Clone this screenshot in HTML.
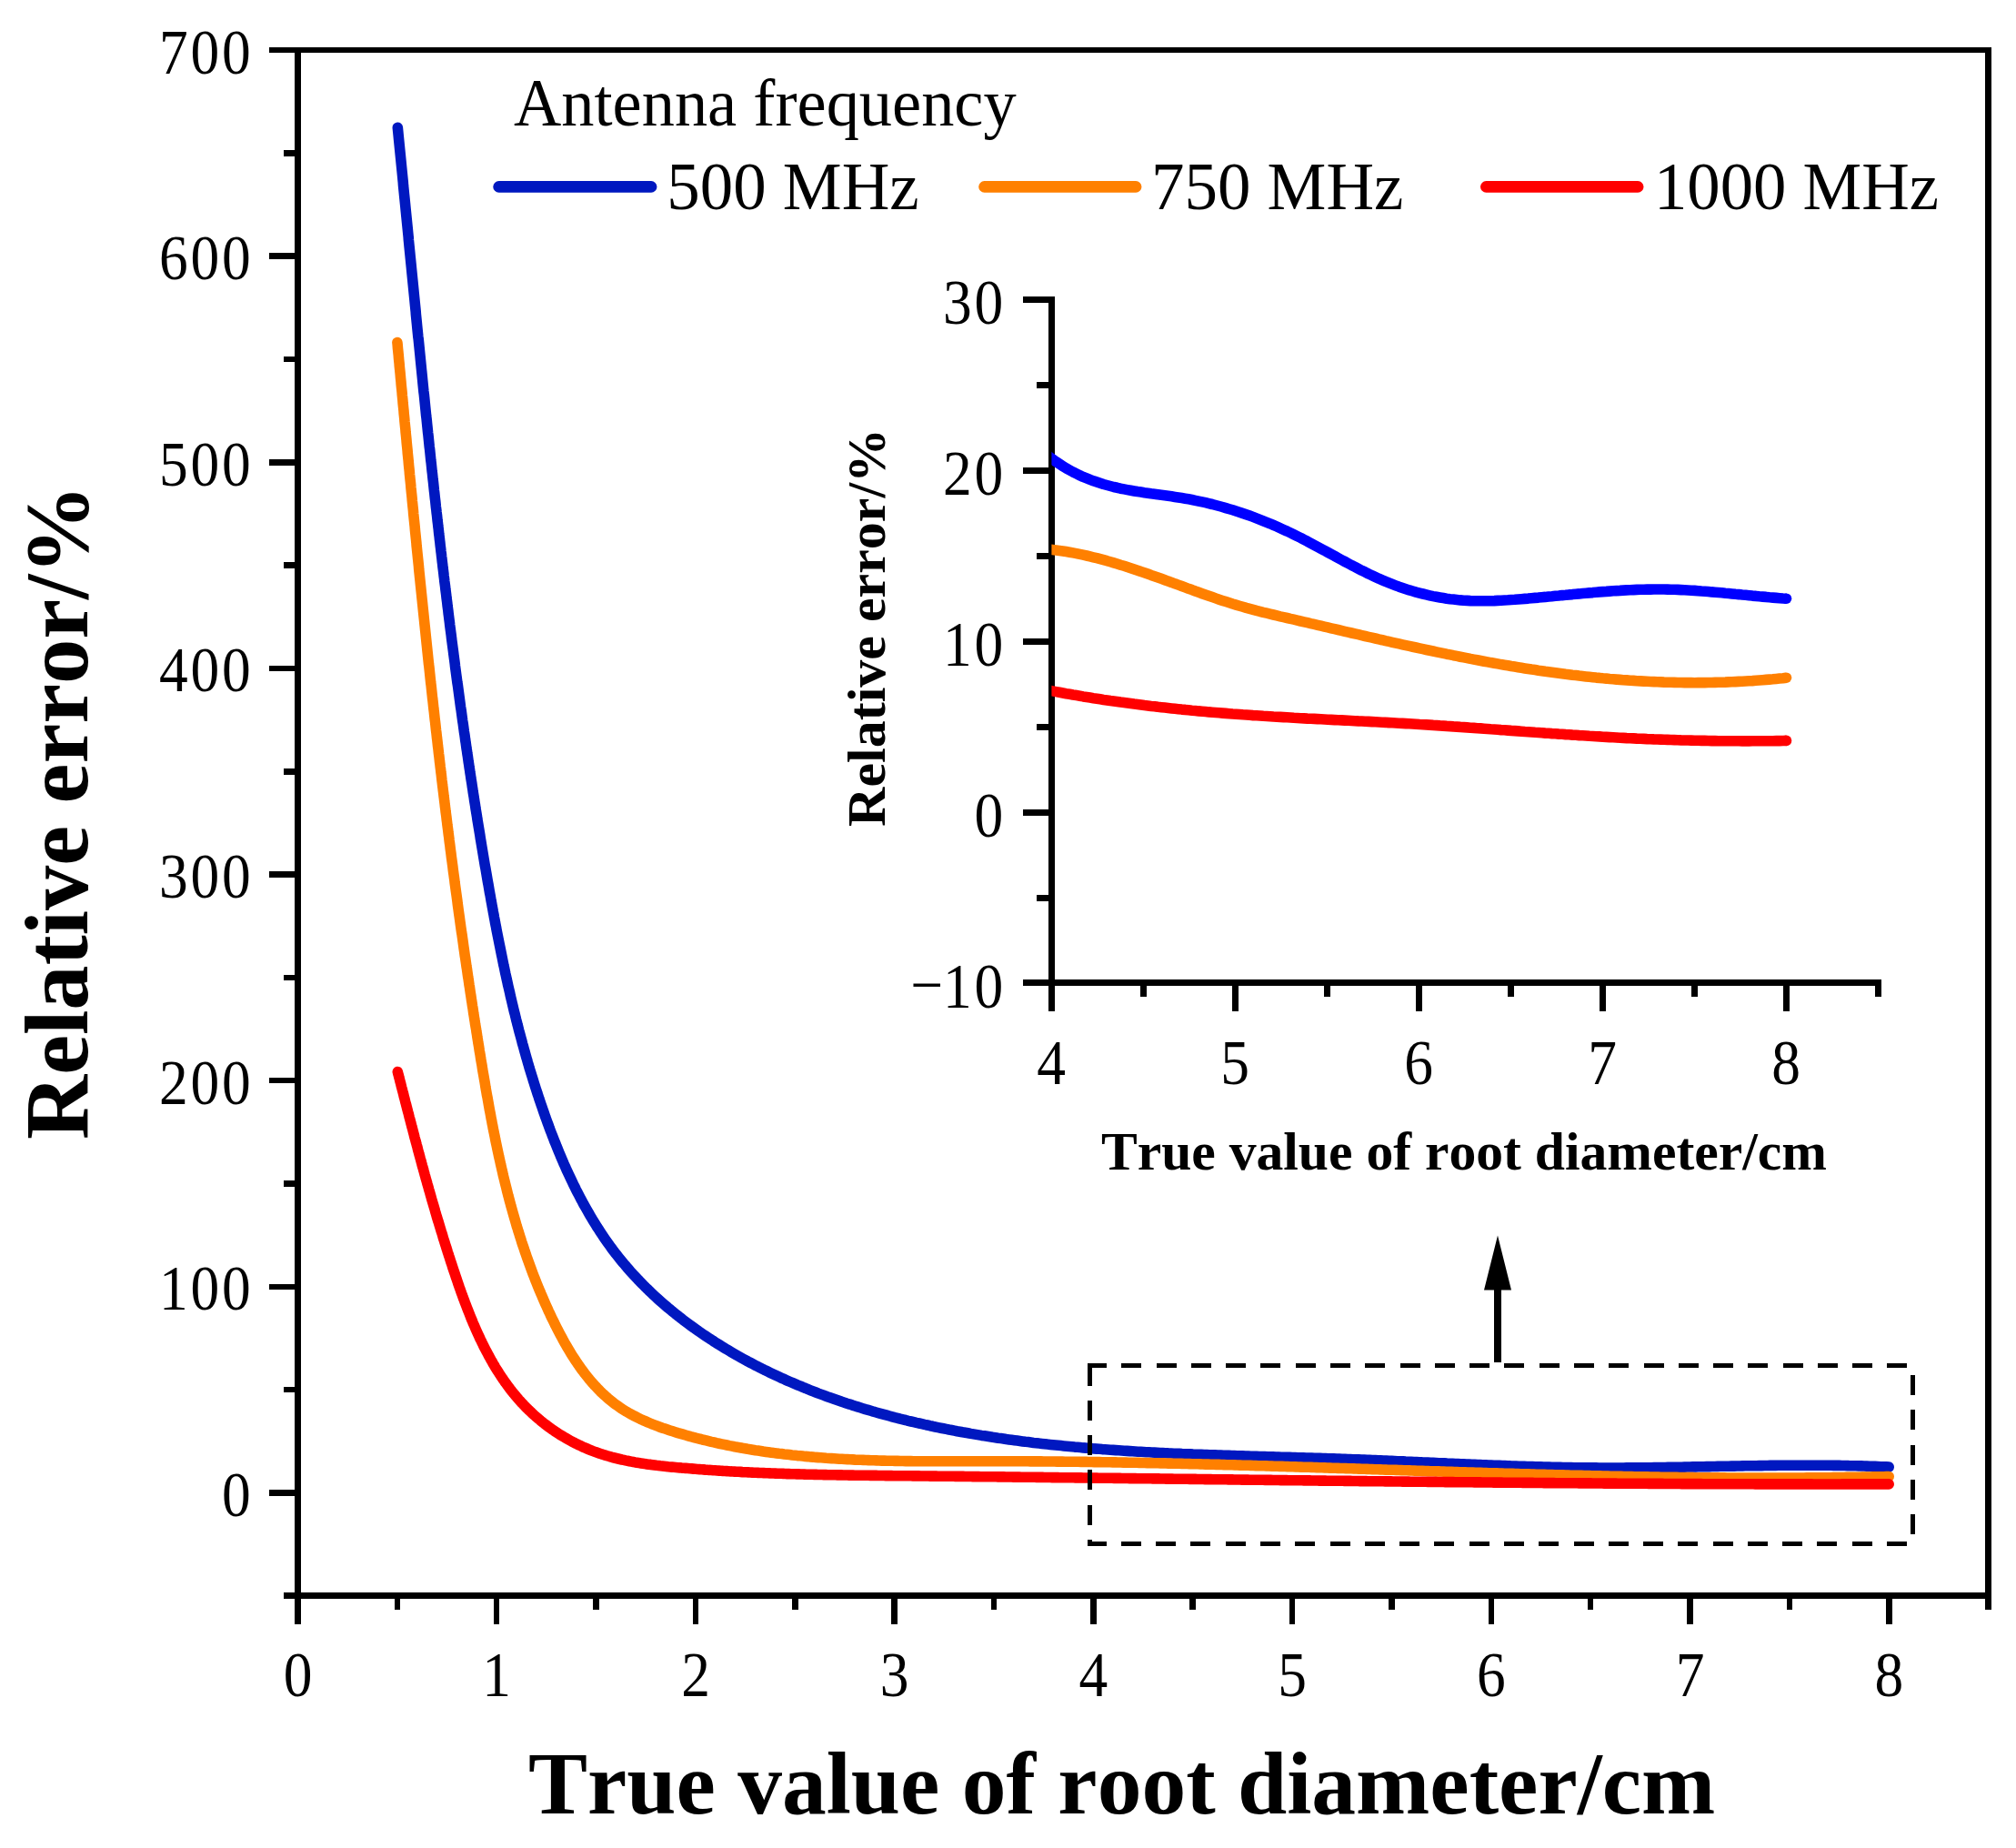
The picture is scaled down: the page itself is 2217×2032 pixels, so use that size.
<!DOCTYPE html><html><head><meta charset="utf-8"><title>Relative error vs root diameter</title>
<style>html,body{margin:0;padding:0;background:#fff}svg{display:block}text{font-family:"Liberation Serif","Times New Roman",serif;fill:#000;font-kerning:none}.tk{font-size:69px}.lg{font-size:75px}.b{font-weight:bold}</style></head><body>
<svg width="2217" height="2032" viewBox="0 0 2217 2032">
<rect width="2217" height="2032" fill="#fff"/>
<g fill="none" stroke-linecap="round" stroke-linejoin="round" stroke-width="11.6">
<path d="M437.3,140.2 L437.6,143.2 L437.9,146.2 L438.2,149.3 L438.5,152.3 L438.8,155.3 L439.1,158.3 L439.4,161.3 L439.7,164.3 L440.0,167.4 L440.3,170.4 L440.6,173.4 L440.9,176.4 L441.2,179.4 L441.5,182.5 L441.8,185.5 L442.1,188.5 L442.4,191.5 L442.7,194.5 L443.0,197.6 L443.3,200.6 L443.5,203.6 L443.8,206.6 L444.1,209.6 L444.4,212.7 L444.7,215.7 L445.0,218.7 L445.3,221.7 L445.6,224.7 L445.9,227.8 L446.2,230.8 L446.5,233.8 L446.8,236.8 L447.1,239.8 L447.4,242.9 L447.7,245.9 L448.0,248.9 L448.3,251.9 L448.6,255.0 L448.9,258.0 L449.2,261.0 L449.4,264.0 L449.7,267.0 L450.0,270.1 L450.3,273.1 L450.6,276.1 L450.9,279.1 L451.2,282.2 L451.5,285.2 L451.8,288.2 L452.1,291.2 L452.4,294.3 L452.7,297.3 L453.0,300.3 L453.3,303.3 L453.6,306.4 L453.9,309.4 L454.2,312.4 L454.5,315.4 L454.8,318.4 L455.1,321.5 L455.4,324.5 L455.7,327.5 L456.0,330.5 L456.3,333.6 L456.6,336.6 L456.9,339.6 L457.2,342.6 L457.4,345.7 L457.7,348.7 L458.0,351.7 L458.3,354.7 L458.6,357.8 L458.9,360.8 L459.2,363.8 L459.5,366.8 L459.8,369.9 L460.2,372.9 L460.5,375.9 L460.8,378.9 L461.1,382.0 L461.4,385.0 L461.7,388.0 L462.0,391.0 L462.3,394.1 L462.6,397.1 L462.9,400.1 L463.2,403.1 L463.5,406.2 L463.8,409.2 L464.1,412.2 L464.4,415.2 L464.7,418.3 L465.0,421.3 L465.3,424.3 L465.6,427.3 L465.9,430.4 L466.3,433.4 L466.6,436.4 L466.9,439.4 L467.2,442.5 L467.5,445.5 L467.8,448.5 L468.1,451.5 L468.4,454.6 L468.7,457.6 L469.1,460.6 L469.4,463.6 L469.7,466.7 L470.0,469.7 L470.3,472.7 L470.6,475.7 L471.0,478.8 L471.3,481.8 L471.6,484.8 L471.9,487.8 L472.2,490.9 L472.6,493.9 L472.9,496.9 L473.2,499.9 L473.5,502.9 L473.8,506.0 L474.2,509.0 L474.5,512.0 L474.8,515.0 L475.1,518.1 L475.5,521.1 L475.8,524.1 L476.1,527.1 L476.5,530.2 L476.8,533.2 L477.1,536.2 L477.4,539.2 L477.8,542.3 L478.1,545.3 L478.4,548.3 L478.8,551.3 L479.1,554.3 L479.4,557.4 L479.8,560.4 L480.1,563.4 L480.5,566.4 L480.8,569.5 L481.1,572.5 L481.5,575.5 L481.8,578.5 L482.2,581.5 L482.5,584.6 L482.8,587.6 L483.2,590.6 L483.5,593.6 L483.9,596.6 L484.2,599.7 L484.6,602.7 L484.9,605.7 L485.3,608.7 L485.6,611.7 L486.0,614.8 L486.3,617.8 L486.7,620.8 L487.0,623.8 L487.4,626.8 L487.8,629.9 L488.1,632.9 L488.5,635.9 L488.8,638.9 L489.2,641.9 L489.6,645.0 L489.9,648.0 L490.3,651.0 L490.7,654.0 L491.0,657.0 L491.4,660.0 L491.8,663.1 L492.1,666.1 L492.5,669.1 L492.9,672.1 L493.2,675.1 L493.6,678.1 L494.0,681.2 L494.4,684.2 L494.7,687.2 L495.1,690.2 L495.5,693.2 L495.9,696.2 L496.3,699.3 L496.6,702.3 L497.0,705.3 L497.4,708.3 L497.8,711.3 L498.2,714.3 L498.6,717.3 L499.0,720.4 L499.4,723.4 L499.8,726.4 L500.2,729.4 L500.5,732.4 L500.9,735.4 L501.3,738.4 L501.7,741.4 L502.1,744.5 L502.5,747.5 L502.9,750.5 L503.4,753.5 L503.8,756.5 L504.2,759.5 L504.6,762.5 L505.0,765.5 L505.4,768.5 L505.8,771.5 L506.2,774.6 L506.6,777.6 L507.1,780.6 L507.5,783.6 L507.9,786.6 L508.3,789.6 L508.7,792.6 L509.2,795.6 L509.6,798.6 L510.0,801.6 L510.4,804.6 L510.9,807.6 L511.3,810.6 L511.7,813.7 L512.2,816.7 L512.6,819.7 L513.0,822.7 L513.5,825.7 L513.9,828.7 L514.4,831.7 L514.8,834.7 L515.2,837.7 L515.7,840.7 L516.1,843.7 L516.6,846.7 L517.0,849.7 L517.5,852.7 L517.9,855.7 L518.4,858.7 L518.9,861.7 L519.3,864.7 L519.8,867.7 L520.2,870.7 L520.7,873.7 L521.2,876.7 L521.6,879.7 L522.1,882.7 L522.6,885.7 L523.0,888.7 L523.5,891.7 L524.0,894.7 L524.5,897.7 L524.9,900.7 L525.4,903.7 L525.9,906.7 L526.4,909.7 L526.9,912.7 L527.4,915.7 L527.9,918.7 L528.3,921.7 L528.8,924.6 L529.3,927.6 L529.8,930.6 L530.3,933.6 L530.8,936.6 L531.3,939.6 L531.8,942.6 L532.3,945.6 L532.8,948.6 L533.3,951.6 L533.9,954.6 L534.4,957.6 L534.9,960.5 L535.4,963.5 L535.9,966.5 L536.4,969.5 L537.0,972.5 L537.5,975.5 L538.0,978.5 L538.5,981.5 L539.1,984.4 L539.6,987.4 L540.1,990.4 L540.7,993.4 L541.2,996.4 L541.8,999.4 L542.3,1002.3 L542.9,1005.3 L543.4,1008.3 L544.0,1011.3 L544.5,1014.3 L545.1,1017.2 L545.7,1020.2 L546.2,1023.2 L546.8,1026.2 L547.4,1029.2 L548.0,1032.1 L548.6,1035.1 L549.2,1038.1 L549.8,1041.0 L550.4,1044.0 L551.0,1047.0 L551.6,1050.0 L552.2,1052.9 L552.8,1055.9 L553.4,1058.9 L554.0,1061.8 L554.7,1064.8 L555.3,1067.8 L555.9,1070.7 L556.6,1073.7 L557.2,1076.6 L557.9,1079.6 L558.5,1082.6 L559.2,1085.5 L559.9,1088.5 L560.6,1091.4 L561.2,1094.4 L561.9,1097.3 L562.6,1100.3 L563.3,1103.3 L564.0,1106.2 L564.7,1109.1 L565.4,1112.1 L566.2,1115.0 L566.9,1118.0 L567.6,1120.9 L568.4,1123.9 L569.1,1126.8 L569.9,1129.8 L570.6,1132.7 L571.4,1135.6 L572.2,1138.6 L573.0,1141.5 L573.8,1144.4 L574.5,1147.4 L575.4,1150.3 L576.2,1153.2 L577.0,1156.1 L577.8,1159.1 L578.6,1162.0 L579.5,1164.9 L580.3,1167.8 L581.2,1170.8 L582.0,1173.7 L582.9,1176.6 L583.8,1179.5 L584.7,1182.4 L585.6,1185.3 L586.5,1188.2 L587.4,1191.1 L588.3,1194.0 L589.2,1196.9 L590.2,1199.9 L591.1,1202.8 L592.1,1205.6 L593.0,1208.5 L594.0,1211.4 L595.0,1214.3 L596.0,1217.2 L597.0,1220.1 L598.0,1223.0 L599.0,1225.9 L600.0,1228.8 L601.1,1231.7 L602.1,1234.5 L603.2,1237.4 L604.2,1240.3 L605.3,1243.2 L606.4,1246.0 L607.5,1248.9 L608.6,1251.7 L609.7,1254.6 L610.9,1257.4 L612.0,1260.3 L613.2,1263.1 L614.3,1266.0 L615.5,1268.8 L616.7,1271.6 L617.9,1274.5 L619.1,1277.3 L620.3,1280.1 L621.6,1282.9 L622.8,1285.7 L624.1,1288.5 L625.4,1291.2 L626.7,1294.0 L628.0,1296.8 L629.3,1299.5 L630.6,1302.3 L632.0,1305.0 L633.3,1307.8 L634.7,1310.5 L636.1,1313.2 L637.5,1315.9 L638.9,1318.6 L640.4,1321.3 L641.8,1324.0 L643.3,1326.6 L644.8,1329.3 L646.3,1331.9 L647.8,1334.5 L649.3,1337.2 L650.9,1339.8 L652.4,1342.4 L654.0,1344.9 L655.6,1347.5 L657.2,1350.1 L658.9,1352.6 L660.5,1355.1 L662.2,1357.7 L663.9,1360.2 L665.6,1362.7 L667.3,1365.1 L669.1,1367.6 L670.8,1370.0 L672.6,1372.5 L674.4,1374.9 L676.2,1377.3 L678.1,1379.7 L679.9,1382.0 L681.8,1384.4 L683.7,1386.7 L685.6,1389.0 L687.6,1391.3 L689.5,1393.6 L691.5,1395.9 L693.5,1398.2 L695.5,1400.4 L697.5,1402.6 L699.6,1404.8 L701.7,1407.0 L703.7,1409.2 L705.9,1411.4 L708.0,1413.5 L710.1,1415.6 L712.3,1417.7 L714.4,1419.8 L716.6,1421.9 L718.8,1424.0 L721.0,1426.0 L723.3,1428.1 L725.5,1430.1 L727.8,1432.1 L730.1,1434.1 L732.3,1436.0 L734.6,1438.0 L737.0,1439.9 L739.3,1441.9 L741.7,1443.8 L744.0,1445.7 L746.4,1447.5 L748.8,1449.4 L751.2,1451.3 L753.6,1453.1 L756.0,1454.9 L758.5,1456.7 L760.9,1458.5 L763.4,1460.3 L765.8,1462.0 L768.3,1463.8 L770.8,1465.5 L773.3,1467.2 L775.8,1468.9 L778.4,1470.6 L780.9,1472.3 L783.5,1473.9 L786.0,1475.6 L788.6,1477.2 L791.2,1478.8 L793.7,1480.4 L796.3,1482.0 L798.9,1483.6 L801.5,1485.1 L804.2,1486.7 L806.8,1488.2 L809.4,1489.7 L812.1,1491.2 L814.7,1492.7 L817.4,1494.2 L820.0,1495.6 L822.7,1497.1 L825.4,1498.5 L828.1,1499.9 L830.7,1501.3 L833.4,1502.7 L836.1,1504.1 L838.9,1505.4 L841.6,1506.8 L844.3,1508.1 L847.0,1509.4 L849.8,1510.7 L852.5,1512.0 L855.3,1513.3 L858.0,1514.6 L860.8,1515.8 L863.5,1517.1 L866.3,1518.3 L869.1,1519.5 L871.9,1520.7 L874.7,1521.9 L877.5,1523.1 L880.3,1524.2 L883.1,1525.4 L885.9,1526.5 L888.7,1527.7 L891.5,1528.8 L894.3,1529.9 L897.2,1531.0 L900.0,1532.1 L902.8,1533.1 L905.7,1534.2 L908.5,1535.2 L911.4,1536.3 L914.3,1537.3 L917.1,1538.3 L920.0,1539.3 L922.9,1540.3 L925.7,1541.3 L928.6,1542.2 L931.5,1543.2 L934.4,1544.1 L937.3,1545.1 L940.2,1546.0 L943.1,1546.9 L946.0,1547.8 L948.9,1548.7 L951.8,1549.6 L954.7,1550.4 L957.7,1551.3 L960.6,1552.2 L963.5,1553.0 L966.5,1553.8 L969.4,1554.6 L972.3,1555.4 L975.3,1556.2 L978.2,1557.0 L981.2,1557.8 L984.1,1558.6 L987.1,1559.3 L990.0,1560.1 L993.0,1560.8 L995.9,1561.5 L998.9,1562.3 L1001.9,1563.0 L1004.8,1563.7 L1007.8,1564.4 L1010.8,1565.0 L1013.7,1565.7 L1016.7,1566.4 L1019.7,1567.0 L1022.7,1567.7 L1025.6,1568.3 L1028.6,1569.0 L1031.6,1569.6 L1034.6,1570.2 L1037.6,1570.8 L1040.6,1571.4 L1043.6,1572.0 L1046.6,1572.5 L1049.6,1573.1 L1052.5,1573.7 L1055.5,1574.2 L1058.5,1574.8 L1061.5,1575.3 L1064.5,1575.8 L1067.5,1576.4 L1070.5,1576.9 L1073.5,1577.4 L1076.5,1577.9 L1079.5,1578.4 L1082.5,1578.8 L1085.5,1579.3 L1088.5,1579.8 L1091.6,1580.3 L1094.6,1580.7 L1097.6,1581.2 L1100.6,1581.6 L1103.6,1582.0 L1106.6,1582.5 L1109.6,1582.9 L1112.6,1583.3 L1115.6,1583.7 L1118.6,1584.1 L1121.6,1584.5 L1124.6,1584.9 L1127.6,1585.3 L1130.7,1585.6 L1133.7,1586.0 L1136.7,1586.4 L1139.7,1586.7 L1142.7,1587.1 L1145.7,1587.4 L1148.7,1587.7 L1151.7,1588.1 L1154.8,1588.4 L1157.8,1588.7 L1160.8,1589.0 L1163.8,1589.3 L1166.8,1589.6 L1169.8,1589.9 L1172.9,1590.2 L1175.9,1590.5 L1178.9,1590.8 L1181.9,1591.1 L1184.9,1591.3 L1187.9,1591.6 L1191.0,1591.9 L1194.0,1592.1 L1197.0,1592.4 L1200.0,1592.6 L1203.0,1592.9 L1206.1,1593.1 L1209.1,1593.3 L1212.1,1593.6 L1215.1,1593.8 L1218.2,1594.0 L1221.2,1594.2 L1224.2,1594.4 L1227.2,1594.6 L1230.3,1594.8 L1233.3,1595.0 L1236.3,1595.2 L1239.3,1595.4 L1242.4,1595.6 L1245.4,1595.8 L1248.4,1596.0 L1251.4,1596.2 L1254.5,1596.3 L1257.5,1596.5 L1260.5,1596.7 L1263.5,1596.8 L1266.6,1597.0 L1269.6,1597.1 L1272.6,1597.3 L1275.7,1597.5 L1278.7,1597.6 L1281.7,1597.7 L1284.8,1597.9 L1287.8,1598.0 L1290.8,1598.2 L1293.8,1598.3 L1296.9,1598.4 L1299.9,1598.6 L1302.9,1598.7 L1306.0,1598.8 L1309.0,1598.9 L1312.0,1599.1 L1315.1,1599.2 L1318.1,1599.3 L1321.1,1599.4 L1324.2,1599.5 L1327.2,1599.6 L1330.2,1599.7 L1333.3,1599.8 L1336.3,1599.9 L1339.3,1600.0 L1342.4,1600.1 L1345.4,1600.3 L1348.4,1600.3 L1351.5,1600.4 L1354.5,1600.5 L1357.5,1600.6 L1360.6,1600.7 L1363.6,1600.8 L1366.6,1600.9 L1369.7,1601.0 L1372.7,1601.1 L1375.7,1601.2 L1378.8,1601.3 L1381.8,1601.4 L1384.9,1601.5 L1387.9,1601.6 L1390.9,1601.6 L1394.0,1601.7 L1397.0,1601.8 L1400.0,1601.9 L1403.1,1602.0 L1406.1,1602.1 L1409.1,1602.2 L1412.2,1602.3 L1415.2,1602.3 L1418.2,1602.4 L1421.3,1602.5 L1424.3,1602.6 L1427.4,1602.7 L1430.4,1602.8 L1433.4,1602.9 L1436.5,1603.0 L1439.5,1603.1 L1442.5,1603.1 L1445.6,1603.2 L1448.6,1603.3 L1451.7,1603.4 L1454.7,1603.5 L1457.7,1603.6 L1460.8,1603.7 L1463.8,1603.8 L1466.8,1603.9 L1469.9,1604.0 L1472.9,1604.1 L1475.9,1604.2 L1479.0,1604.3 L1482.0,1604.5 L1485.1,1604.6 L1488.1,1604.7 L1491.1,1604.8 L1494.2,1604.9 L1497.2,1605.0 L1500.2,1605.1 L1503.3,1605.3 L1506.3,1605.4 L1509.3,1605.5 L1512.4,1605.6 L1515.4,1605.8 L1518.5,1605.9 L1521.5,1606.0 L1524.5,1606.1 L1527.6,1606.3 L1530.6,1606.4 L1533.6,1606.5 L1536.7,1606.7 L1539.7,1606.8 L1542.7,1606.9 L1545.8,1607.1 L1548.8,1607.2 L1551.8,1607.3 L1554.9,1607.5 L1557.9,1607.6 L1561.0,1607.7 L1564.0,1607.9 L1567.0,1608.0 L1570.1,1608.1 L1573.1,1608.3 L1576.1,1608.4 L1579.2,1608.5 L1582.2,1608.7 L1585.2,1608.8 L1588.3,1608.9 L1591.3,1609.1 L1594.3,1609.2 L1597.4,1609.3 L1600.4,1609.5 L1603.4,1609.6 L1606.5,1609.7 L1609.5,1609.8 L1612.6,1610.0 L1615.6,1610.1 L1618.6,1610.2 L1621.7,1610.3 L1624.7,1610.5 L1627.7,1610.6 L1630.8,1610.7 L1633.8,1610.8 L1636.8,1611.0 L1639.9,1611.1 L1642.9,1611.2 L1645.9,1611.3 L1649.0,1611.4 L1652.0,1611.5 L1655.0,1611.6 L1658.1,1611.7 L1661.1,1611.9 L1664.2,1612.0 L1667.2,1612.1 L1670.2,1612.2 L1673.3,1612.3 L1676.3,1612.4 L1679.3,1612.5 L1682.4,1612.5 L1685.4,1612.6 L1688.4,1612.7 L1691.5,1612.8 L1694.5,1612.9 L1697.5,1613.0 L1700.6,1613.0 L1703.6,1613.1 L1706.7,1613.2 L1709.7,1613.3 L1712.7,1613.3 L1715.8,1613.4 L1718.8,1613.5 L1721.8,1613.5 L1724.9,1613.6 L1727.9,1613.6 L1730.9,1613.7 L1734.0,1613.7 L1737.0,1613.8 L1740.1,1613.8 L1743.1,1613.8 L1746.1,1613.9 L1749.2,1613.9 L1752.2,1613.9 L1755.2,1613.9 L1758.3,1614.0 L1761.3,1614.0 L1764.3,1614.0 L1767.4,1614.0 L1770.4,1614.0 L1773.5,1614.0 L1776.5,1614.0 L1779.5,1614.0 L1782.6,1614.0 L1785.6,1614.0 L1788.6,1613.9 L1791.7,1613.9 L1794.7,1613.9 L1797.8,1613.9 L1800.8,1613.8 L1803.8,1613.8 L1806.9,1613.8 L1809.9,1613.8 L1812.9,1613.7 L1816.0,1613.7 L1819.0,1613.6 L1822.1,1613.6 L1825.1,1613.6 L1828.1,1613.5 L1831.2,1613.5 L1834.2,1613.4 L1837.2,1613.4 L1840.3,1613.3 L1843.3,1613.3 L1846.4,1613.2 L1849.4,1613.2 L1852.4,1613.1 L1855.5,1613.0 L1858.5,1613.0 L1861.5,1612.9 L1864.6,1612.9 L1867.6,1612.8 L1870.7,1612.8 L1873.7,1612.7 L1876.7,1612.6 L1879.8,1612.6 L1882.8,1612.5 L1885.9,1612.5 L1888.9,1612.4 L1891.9,1612.3 L1895.0,1612.3 L1898.0,1612.2 L1901.0,1612.2 L1904.1,1612.1 L1907.1,1612.1 L1910.2,1612.0 L1913.2,1612.0 L1916.2,1611.9 L1919.3,1611.8 L1922.3,1611.8 L1925.4,1611.7 L1928.4,1611.7 L1931.4,1611.7 L1934.5,1611.6 L1937.5,1611.6 L1940.5,1611.5 L1943.6,1611.5 L1946.6,1611.4 L1949.7,1611.4 L1952.7,1611.4 L1955.7,1611.3 L1958.8,1611.3 L1961.8,1611.3 L1964.8,1611.3 L1967.9,1611.3 L1970.9,1611.2 L1974.0,1611.2 L1977.0,1611.2 L1980.0,1611.2 L1983.1,1611.2 L1986.1,1611.2 L1989.2,1611.2 L1992.2,1611.2 L1995.2,1611.2 L1998.3,1611.2 L2001.3,1611.2 L2004.3,1611.2 L2007.4,1611.3 L2010.4,1611.3 L2013.5,1611.3 L2016.5,1611.4 L2019.5,1611.4 L2022.6,1611.4 L2025.6,1611.5 L2028.6,1611.5 L2031.7,1611.6 L2034.7,1611.7 L2037.8,1611.7 L2040.8,1611.8 L2043.8,1611.9 L2046.9,1611.9 L2049.9,1612.0 L2052.9,1612.1 L2056.0,1612.2 L2059.0,1612.3 L2062.1,1612.4 L2065.1,1612.5 L2068.1,1612.7 L2071.2,1612.8 L2074.2,1612.9 L2077.2,1613.1" stroke="#0018c0"/>
<path d="M436.9,376.5 L437.2,379.4 L437.4,382.3 L437.7,385.2 L438.0,388.1 L438.3,391.0 L438.5,393.9 L438.8,396.8 L439.1,399.7 L439.3,402.6 L439.6,405.5 L439.9,408.4 L440.2,411.3 L440.4,414.2 L440.7,417.1 L441.0,420.0 L441.2,422.9 L441.5,425.8 L441.8,428.7 L442.1,431.6 L442.3,434.5 L442.6,437.4 L442.9,440.3 L443.1,443.2 L443.4,446.1 L443.7,449.0 L444.0,451.9 L444.2,454.8 L444.5,457.7 L444.8,460.6 L445.0,463.5 L445.3,466.4 L445.6,469.3 L445.9,472.2 L446.1,475.1 L446.4,478.0 L446.7,480.9 L447.0,483.8 L447.2,486.7 L447.5,489.6 L447.8,492.5 L448.1,495.4 L448.3,498.3 L448.6,501.2 L448.9,504.1 L449.2,507.0 L449.4,509.9 L449.7,512.8 L450.0,515.7 L450.3,518.6 L450.5,521.5 L450.8,524.4 L451.1,527.3 L451.4,530.2 L451.7,533.1 L451.9,536.0 L452.2,538.9 L452.5,541.8 L452.8,544.7 L453.1,547.6 L453.3,550.5 L453.6,553.4 L453.9,556.3 L454.2,559.2 L454.5,562.1 L454.7,565.0 L455.0,567.9 L455.3,570.8 L455.6,573.7 L455.9,576.6 L456.2,579.5 L456.4,582.4 L456.7,585.3 L457.0,588.2 L457.3,591.1 L457.6,594.0 L457.9,596.9 L458.1,599.8 L458.4,602.7 L458.7,605.6 L459.0,608.5 L459.3,611.4 L459.6,614.3 L459.9,617.2 L460.2,620.1 L460.5,623.0 L460.7,625.9 L461.0,628.8 L461.3,631.7 L461.6,634.6 L461.9,637.5 L462.2,640.4 L462.5,643.3 L462.8,646.2 L463.1,649.1 L463.4,652.0 L463.7,654.9 L464.0,657.8 L464.3,660.7 L464.6,663.6 L464.9,666.5 L465.2,669.4 L465.5,672.3 L465.8,675.2 L466.1,678.1 L466.4,681.0 L466.7,683.9 L467.0,686.8 L467.3,689.7 L467.6,692.6 L467.9,695.5 L468.2,698.4 L468.5,701.3 L468.8,704.2 L469.1,707.1 L469.4,710.0 L469.7,712.9 L470.0,715.8 L470.3,718.7 L470.6,721.6 L470.9,724.5 L471.2,727.4 L471.5,730.3 L471.9,733.2 L472.2,736.1 L472.5,739.0 L472.8,741.9 L473.1,744.8 L473.4,747.7 L473.7,750.6 L474.1,753.5 L474.4,756.4 L474.7,759.3 L475.0,762.2 L475.3,765.0 L475.6,767.9 L476.0,770.8 L476.3,773.7 L476.6,776.6 L476.9,779.5 L477.3,782.4 L477.6,785.3 L477.9,788.2 L478.2,791.1 L478.6,794.0 L478.9,796.9 L479.2,799.8 L479.5,802.7 L479.9,805.6 L480.2,808.5 L480.5,811.4 L480.9,814.3 L481.2,817.2 L481.5,820.1 L481.9,823.0 L482.2,825.9 L482.5,828.7 L482.9,831.6 L483.2,834.5 L483.5,837.4 L483.9,840.3 L484.2,843.2 L484.6,846.1 L484.9,849.0 L485.3,851.9 L485.6,854.8 L485.9,857.7 L486.3,860.6 L486.6,863.5 L487.0,866.4 L487.3,869.3 L487.7,872.1 L488.0,875.0 L488.4,877.9 L488.7,880.8 L489.1,883.7 L489.4,886.6 L489.8,889.5 L490.1,892.4 L490.5,895.3 L490.9,898.2 L491.2,901.1 L491.6,904.0 L491.9,906.8 L492.3,909.7 L492.7,912.6 L493.0,915.5 L493.4,918.4 L493.8,921.3 L494.1,924.2 L494.5,927.1 L494.9,930.0 L495.2,932.9 L495.6,935.7 L496.0,938.6 L496.3,941.5 L496.7,944.4 L497.1,947.3 L497.5,950.2 L497.9,953.1 L498.2,956.0 L498.6,958.9 L499.0,961.7 L499.4,964.6 L499.8,967.5 L500.1,970.4 L500.5,973.3 L500.9,976.2 L501.3,979.1 L501.7,982.0 L502.1,984.8 L502.5,987.7 L502.9,990.6 L503.2,993.5 L503.6,996.4 L504.0,999.3 L504.4,1002.2 L504.8,1005.1 L505.2,1007.9 L505.6,1010.8 L506.0,1013.7 L506.4,1016.6 L506.8,1019.5 L507.2,1022.4 L507.6,1025.2 L508.1,1028.1 L508.5,1031.0 L508.9,1033.9 L509.3,1036.8 L509.7,1039.7 L510.1,1042.6 L510.5,1045.4 L510.9,1048.3 L511.3,1051.2 L511.8,1054.1 L512.2,1057.0 L512.6,1059.8 L513.0,1062.7 L513.5,1065.6 L513.9,1068.5 L514.3,1071.4 L514.7,1074.3 L515.2,1077.1 L515.6,1080.0 L516.0,1082.9 L516.5,1085.8 L516.9,1088.7 L517.3,1091.5 L517.8,1094.4 L518.2,1097.3 L518.6,1100.2 L519.1,1103.1 L519.5,1105.9 L520.0,1108.8 L520.4,1111.7 L520.8,1114.6 L521.3,1117.5 L521.7,1120.3 L522.2,1123.2 L522.6,1126.1 L523.1,1129.0 L523.6,1131.8 L524.0,1134.7 L524.5,1137.6 L524.9,1140.5 L525.4,1143.4 L525.8,1146.2 L526.3,1149.1 L526.8,1152.0 L527.2,1154.9 L527.7,1157.7 L528.2,1160.6 L528.6,1163.5 L529.1,1166.4 L529.6,1169.2 L530.1,1172.1 L530.5,1175.0 L531.0,1177.9 L531.5,1180.7 L532.0,1183.6 L532.5,1186.5 L533.0,1189.3 L533.5,1192.2 L533.9,1195.1 L534.4,1198.0 L534.9,1200.8 L535.4,1203.7 L536.0,1206.6 L536.5,1209.4 L537.0,1212.3 L537.5,1215.2 L538.0,1218.0 L538.5,1220.9 L539.1,1223.7 L539.6,1226.6 L540.1,1229.5 L540.7,1232.3 L541.2,1235.2 L541.8,1238.0 L542.3,1240.9 L542.9,1243.8 L543.5,1246.6 L544.1,1249.5 L544.6,1252.3 L545.2,1255.2 L545.8,1258.0 L546.4,1260.9 L547.0,1263.7 L547.6,1266.5 L548.2,1269.4 L548.8,1272.2 L549.5,1275.1 L550.1,1277.9 L550.7,1280.7 L551.4,1283.6 L552.0,1286.4 L552.7,1289.2 L553.3,1292.1 L554.0,1294.9 L554.7,1297.7 L555.4,1300.6 L556.1,1303.4 L556.8,1306.2 L557.5,1309.0 L558.2,1311.8 L558.9,1314.6 L559.7,1317.5 L560.4,1320.3 L561.2,1323.1 L561.9,1325.9 L562.7,1328.7 L563.5,1331.5 L564.3,1334.3 L565.1,1337.1 L565.9,1339.9 L566.7,1342.7 L567.5,1345.5 L568.3,1348.3 L569.2,1351.0 L570.0,1353.8 L570.9,1356.6 L571.8,1359.4 L572.7,1362.2 L573.5,1364.9 L574.4,1367.7 L575.4,1370.5 L576.3,1373.2 L577.2,1376.0 L578.2,1378.8 L579.1,1381.5 L580.1,1384.3 L581.1,1387.0 L582.1,1389.8 L583.1,1392.5 L584.1,1395.3 L585.1,1398.0 L586.1,1400.7 L587.2,1403.5 L588.3,1406.2 L589.3,1408.9 L590.4,1411.6 L591.5,1414.4 L592.6,1417.1 L593.8,1419.8 L594.9,1422.5 L596.1,1425.2 L597.2,1427.9 L598.4,1430.6 L599.6,1433.3 L600.8,1436.0 L602.0,1438.7 L603.2,1441.4 L604.5,1444.1 L605.7,1446.7 L607.0,1449.4 L608.3,1452.1 L609.6,1454.7 L610.9,1457.4 L612.3,1460.1 L613.6,1462.7 L615.0,1465.4 L616.4,1468.0 L617.8,1470.6 L619.2,1473.2 L620.6,1475.8 L622.1,1478.4 L623.6,1481.0 L625.1,1483.5 L626.6,1486.0 L628.1,1488.6 L629.7,1491.1 L631.3,1493.5 L632.9,1496.0 L634.5,1498.4 L636.2,1500.8 L637.8,1503.2 L639.5,1505.6 L641.3,1507.9 L643.0,1510.2 L644.8,1512.5 L646.6,1514.8 L648.4,1517.0 L650.3,1519.2 L652.2,1521.4 L654.1,1523.5 L656.1,1525.6 L658.0,1527.7 L660.0,1529.7 L662.1,1531.7 L664.2,1533.6 L666.3,1535.5 L668.4,1537.4 L670.6,1539.2 L672.8,1541.0 L675.0,1542.8 L677.3,1544.5 L679.6,1546.1 L681.9,1547.7 L684.3,1549.3 L686.7,1550.8 L689.1,1552.3 L691.6,1553.7 L694.1,1555.1 L696.6,1556.5 L699.2,1557.8 L701.8,1559.1 L704.4,1560.4 L707.0,1561.6 L709.6,1562.7 L712.3,1563.9 L715.0,1565.0 L717.7,1566.1 L720.4,1567.1 L723.2,1568.2 L725.9,1569.2 L728.7,1570.2 L731.5,1571.1 L734.2,1572.0 L737.0,1572.9 L739.8,1573.8 L742.6,1574.7 L745.5,1575.6 L748.3,1576.4 L751.1,1577.2 L753.9,1578.0 L756.8,1578.8 L759.6,1579.6 L762.4,1580.3 L765.2,1581.1 L768.1,1581.8 L770.9,1582.5 L773.7,1583.3 L776.6,1583.9 L779.4,1584.6 L782.3,1585.3 L785.1,1585.9 L787.9,1586.6 L790.8,1587.2 L793.6,1587.8 L796.5,1588.4 L799.3,1589.0 L802.2,1589.6 L805.0,1590.1 L807.9,1590.7 L810.7,1591.2 L813.6,1591.7 L816.5,1592.3 L819.3,1592.8 L822.2,1593.3 L825.0,1593.7 L827.9,1594.2 L830.8,1594.7 L833.6,1595.1 L836.5,1595.5 L839.4,1596.0 L842.3,1596.4 L845.1,1596.8 L848.0,1597.2 L850.9,1597.6 L853.8,1597.9 L856.6,1598.3 L859.5,1598.6 L862.4,1599.0 L865.3,1599.3 L868.1,1599.6 L871.0,1600.0 L873.9,1600.3 L876.8,1600.6 L879.7,1600.8 L882.6,1601.1 L885.5,1601.4 L888.4,1601.6 L891.2,1601.9 L894.1,1602.1 L897.0,1602.4 L899.9,1602.6 L902.8,1602.8 L905.7,1603.0 L908.6,1603.3 L911.5,1603.5 L914.4,1603.6 L917.3,1603.8 L920.2,1604.0 L923.1,1604.2 L926.0,1604.3 L928.9,1604.5 L931.8,1604.6 L934.7,1604.8 L937.6,1604.9 L940.5,1605.1 L943.4,1605.2 L946.3,1605.3 L949.3,1605.4 L952.2,1605.5 L955.1,1605.6 L958.0,1605.7 L960.9,1605.8 L963.8,1605.9 L966.7,1606.0 L969.6,1606.1 L972.5,1606.1 L975.5,1606.2 L978.4,1606.3 L981.3,1606.3 L984.2,1606.4 L987.1,1606.4 L990.0,1606.5 L992.9,1606.5 L995.9,1606.6 L998.8,1606.6 L1001.7,1606.6 L1004.6,1606.7 L1007.5,1606.7 L1010.5,1606.7 L1013.4,1606.7 L1016.3,1606.8 L1019.2,1606.8 L1022.1,1606.8 L1025.1,1606.8 L1028.0,1606.8 L1030.9,1606.8 L1033.8,1606.8 L1036.7,1606.8 L1039.7,1606.8 L1042.6,1606.8 L1045.5,1606.8 L1048.4,1606.8 L1051.3,1606.8 L1054.3,1606.8 L1057.2,1606.8 L1060.1,1606.8 L1063.0,1606.8 L1066.0,1606.8 L1068.9,1606.8 L1071.8,1606.8 L1074.7,1606.8 L1077.7,1606.8 L1080.6,1606.8 L1083.5,1606.8 L1086.4,1606.8 L1089.3,1606.8 L1092.3,1606.8 L1095.2,1606.8 L1098.1,1606.8 L1101.0,1606.8 L1104.0,1606.8 L1106.9,1606.8 L1109.8,1606.8 L1112.7,1606.8 L1115.6,1606.8 L1118.6,1606.8 L1121.5,1606.8 L1124.4,1606.8 L1127.3,1606.8 L1130.3,1606.8 L1133.2,1606.9 L1136.1,1606.9 L1139.0,1606.9 L1141.9,1606.9 L1144.9,1606.9 L1147.8,1607.0 L1150.7,1607.0 L1153.6,1607.0 L1156.5,1607.0 L1159.5,1607.0 L1162.4,1607.1 L1165.3,1607.1 L1168.2,1607.1 L1171.1,1607.2 L1174.1,1607.2 L1177.0,1607.2 L1179.9,1607.3 L1182.8,1607.3 L1185.7,1607.3 L1188.7,1607.4 L1191.6,1607.4 L1194.5,1607.4 L1197.4,1607.5 L1200.3,1607.5 L1203.2,1607.6 L1206.2,1607.6 L1209.1,1607.6 L1212.0,1607.7 L1214.9,1607.7 L1217.8,1607.8 L1220.8,1607.8 L1223.7,1607.9 L1226.6,1607.9 L1229.5,1608.0 L1232.4,1608.0 L1235.3,1608.1 L1238.3,1608.1 L1241.2,1608.2 L1244.1,1608.2 L1247.0,1608.3 L1249.9,1608.3 L1252.8,1608.4 L1255.8,1608.5 L1258.7,1608.5 L1261.6,1608.6 L1264.5,1608.6 L1267.4,1608.7 L1270.3,1608.7 L1273.3,1608.8 L1276.2,1608.9 L1279.1,1608.9 L1282.0,1609.0 L1284.9,1609.1 L1287.8,1609.1 L1290.7,1609.2 L1293.7,1609.3 L1296.6,1609.3 L1299.5,1609.4 L1302.4,1609.5 L1305.3,1609.5 L1308.2,1609.6 L1311.1,1609.7 L1314.1,1609.8 L1317.0,1609.8 L1319.9,1609.9 L1322.8,1610.0 L1325.7,1610.1 L1328.6,1610.1 L1331.5,1610.2 L1334.5,1610.3 L1337.4,1610.4 L1340.3,1610.4 L1343.2,1610.5 L1346.1,1610.6 L1349.0,1610.7 L1351.9,1610.8 L1354.9,1610.8 L1357.8,1610.9 L1360.7,1611.0 L1363.6,1611.1 L1366.5,1611.2 L1369.4,1611.2 L1372.3,1611.3 L1375.3,1611.4 L1378.2,1611.5 L1381.1,1611.6 L1384.0,1611.7 L1386.9,1611.7 L1389.8,1611.8 L1392.7,1611.9 L1395.6,1612.0 L1398.6,1612.1 L1401.5,1612.2 L1404.4,1612.3 L1407.3,1612.4 L1410.2,1612.4 L1413.1,1612.5 L1416.0,1612.6 L1418.9,1612.7 L1421.9,1612.8 L1424.8,1612.9 L1427.7,1613.0 L1430.6,1613.1 L1433.5,1613.2 L1436.4,1613.3 L1439.3,1613.3 L1442.2,1613.4 L1445.1,1613.5 L1448.1,1613.6 L1451.0,1613.7 L1453.9,1613.8 L1456.8,1613.9 L1459.7,1614.0 L1462.6,1614.1 L1465.5,1614.2 L1468.4,1614.3 L1471.4,1614.4 L1474.3,1614.5 L1477.2,1614.5 L1480.1,1614.6 L1483.0,1614.7 L1485.9,1614.8 L1488.8,1614.9 L1491.7,1615.0 L1494.6,1615.1 L1497.6,1615.2 L1500.5,1615.3 L1503.4,1615.4 L1506.3,1615.5 L1509.2,1615.6 L1512.1,1615.7 L1515.0,1615.8 L1517.9,1615.9 L1520.8,1616.0 L1523.8,1616.1 L1526.7,1616.2 L1529.6,1616.3 L1532.5,1616.3 L1535.4,1616.4 L1538.3,1616.5 L1541.2,1616.6 L1544.1,1616.7 L1547.0,1616.8 L1549.9,1616.9 L1552.9,1617.0 L1555.8,1617.1 L1558.7,1617.2 L1561.6,1617.3 L1564.5,1617.4 L1567.4,1617.5 L1570.3,1617.6 L1573.2,1617.7 L1576.1,1617.8 L1579.1,1617.9 L1582.0,1617.9 L1584.9,1618.0 L1587.8,1618.1 L1590.7,1618.2 L1593.6,1618.3 L1596.5,1618.4 L1599.4,1618.5 L1602.3,1618.6 L1605.2,1618.7 L1608.2,1618.8 L1611.1,1618.9 L1614.0,1619.0 L1616.9,1619.0 L1619.8,1619.1 L1622.7,1619.2 L1625.6,1619.3 L1628.5,1619.4 L1631.4,1619.5 L1634.4,1619.6 L1637.3,1619.7 L1640.2,1619.8 L1643.1,1619.8 L1646.0,1619.9 L1648.9,1620.0 L1651.8,1620.1 L1654.7,1620.2 L1657.6,1620.3 L1660.5,1620.4 L1663.5,1620.4 L1666.4,1620.5 L1669.3,1620.6 L1672.2,1620.7 L1675.1,1620.8 L1678.0,1620.9 L1680.9,1620.9 L1683.8,1621.0 L1686.7,1621.1 L1689.7,1621.2 L1692.6,1621.3 L1695.5,1621.3 L1698.4,1621.4 L1701.3,1621.5 L1704.2,1621.6 L1707.1,1621.6 L1710.0,1621.7 L1712.9,1621.8 L1715.8,1621.9 L1718.8,1621.9 L1721.7,1622.0 L1724.6,1622.1 L1727.5,1622.2 L1730.4,1622.2 L1733.3,1622.3 L1736.2,1622.4 L1739.1,1622.4 L1742.0,1622.5 L1745.0,1622.6 L1747.9,1622.6 L1750.8,1622.7 L1753.7,1622.8 L1756.6,1622.8 L1759.5,1622.9 L1762.4,1623.0 L1765.3,1623.0 L1768.2,1623.1 L1771.2,1623.2 L1774.1,1623.2 L1777.0,1623.3 L1779.9,1623.3 L1782.8,1623.4 L1785.7,1623.5 L1788.6,1623.5 L1791.5,1623.6 L1794.5,1623.6 L1797.4,1623.7 L1800.3,1623.7 L1803.2,1623.8 L1806.1,1623.8 L1809.0,1623.9 L1811.9,1623.9 L1814.8,1624.0 L1817.7,1624.0 L1820.7,1624.1 L1823.6,1624.1 L1826.5,1624.2 L1829.4,1624.2 L1832.3,1624.3 L1835.2,1624.3 L1838.1,1624.3 L1841.0,1624.4 L1844.0,1624.4 L1846.9,1624.5 L1849.8,1624.5 L1852.7,1624.5 L1855.6,1624.6 L1858.5,1624.6 L1861.4,1624.6 L1864.4,1624.7 L1867.3,1624.7 L1870.2,1624.7 L1873.1,1624.8 L1876.0,1624.8 L1878.9,1624.8 L1881.8,1624.8 L1884.7,1624.9 L1887.7,1624.9 L1890.6,1624.9 L1893.5,1624.9 L1896.4,1624.9 L1899.3,1625.0 L1902.2,1625.0 L1905.1,1625.0 L1908.1,1625.0 L1911.0,1625.0 L1913.9,1625.0 L1916.8,1625.1 L1919.7,1625.1 L1922.6,1625.1 L1925.5,1625.1 L1928.5,1625.1 L1931.4,1625.1 L1934.3,1625.1 L1937.2,1625.1 L1940.1,1625.1 L1943.0,1625.1 L1946.0,1625.1 L1948.9,1625.1 L1951.8,1625.1 L1954.7,1625.1 L1957.6,1625.1 L1960.5,1625.1 L1963.4,1625.1 L1966.4,1625.0 L1969.3,1625.0 L1972.2,1625.0 L1975.1,1625.0 L1978.0,1625.0 L1980.9,1625.0 L1983.9,1625.0 L1986.8,1624.9 L1989.7,1624.9 L1992.6,1624.9 L1995.5,1624.9 L1998.4,1624.8 L2001.4,1624.8 L2004.3,1624.8 L2007.2,1624.7 L2010.1,1624.7 L2013.0,1624.7 L2015.9,1624.6 L2018.9,1624.6 L2021.8,1624.6 L2024.7,1624.5 L2027.6,1624.5 L2030.5,1624.4 L2033.5,1624.4 L2036.4,1624.3 L2039.3,1624.3 L2042.2,1624.2 L2045.1,1624.2 L2048.0,1624.1 L2051.0,1624.1 L2053.9,1624.0 L2056.8,1624.0 L2059.7,1623.9 L2062.6,1623.9 L2065.6,1623.8 L2068.5,1623.7 L2071.4,1623.7 L2074.3,1623.6 L2077.2,1623.5" stroke="#ff8000"/>
<path d="M437.3,1178.5 L437.8,1180.6 L438.4,1182.7 L438.9,1184.8 L439.5,1187.0 L440.0,1189.1 L440.6,1191.2 L441.1,1193.3 L441.6,1195.4 L442.2,1197.5 L442.7,1199.5 L443.3,1201.6 L443.8,1203.7 L444.3,1205.8 L444.9,1207.9 L445.4,1210.0 L445.9,1212.0 L446.5,1214.1 L447.0,1216.2 L447.5,1218.2 L448.1,1220.3 L448.6,1222.4 L449.2,1224.4 L449.7,1226.5 L450.2,1228.6 L450.8,1230.6 L451.3,1232.7 L451.8,1234.7 L452.4,1236.8 L452.9,1238.8 L453.5,1240.9 L454.0,1242.9 L454.5,1244.9 L455.1,1247.0 L455.6,1249.0 L456.1,1251.1 L456.7,1253.1 L457.2,1255.1 L457.8,1257.2 L458.3,1259.2 L458.9,1261.2 L459.4,1263.3 L459.9,1265.3 L460.5,1267.3 L461.0,1269.3 L461.6,1271.4 L462.1,1273.4 L462.7,1275.4 L463.2,1277.4 L463.8,1279.5 L464.3,1281.5 L464.9,1283.5 L465.5,1285.5 L466.0,1287.5 L466.6,1289.6 L467.1,1291.6 L467.7,1293.6 L468.2,1295.6 L468.8,1297.6 L469.4,1299.6 L469.9,1301.7 L470.5,1303.7 L471.1,1305.7 L471.6,1307.7 L472.2,1309.7 L472.8,1311.7 L473.4,1313.8 L474.0,1315.8 L474.5,1317.8 L475.1,1319.8 L475.7,1321.8 L476.3,1323.8 L476.9,1325.9 L477.5,1327.9 L478.1,1329.9 L478.6,1331.9 L479.2,1333.9 L479.8,1336.0 L480.4,1338.0 L481.0,1340.0 L481.6,1342.0 L482.3,1344.0 L482.9,1346.1 L483.5,1348.1 L484.1,1350.1 L484.7,1352.1 L485.3,1354.2 L486.0,1356.2 L486.6,1358.2 L487.2,1360.3 L487.8,1362.3 L488.5,1364.3 L489.1,1366.4 L489.7,1368.4 L490.4,1370.4 L491.0,1372.5 L491.7,1374.5 L492.3,1376.6 L493.0,1378.6 L493.6,1380.7 L494.3,1382.7 L495.0,1384.8 L495.6,1386.8 L496.3,1388.9 L497.0,1390.9 L497.6,1393.0 L498.3,1395.0 L499.0,1397.1 L499.7,1399.2 L500.4,1401.2 L501.1,1403.3 L501.8,1405.4 L502.5,1407.4 L503.2,1409.5 L503.9,1411.6 L504.6,1413.6 L505.3,1415.7 L506.1,1417.8 L506.8,1419.8 L507.5,1421.9 L508.3,1423.9 L509.0,1426.0 L509.8,1428.1 L510.6,1430.1 L511.3,1432.2 L512.1,1434.2 L512.9,1436.3 L513.7,1438.3 L514.5,1440.4 L515.3,1442.4 L516.1,1444.4 L516.9,1446.5 L517.7,1448.5 L518.5,1450.5 L519.4,1452.5 L520.2,1454.6 L521.1,1456.6 L522.0,1458.6 L522.8,1460.6 L523.7,1462.6 L524.6,1464.6 L525.5,1466.6 L526.4,1468.5 L527.3,1470.5 L528.2,1472.5 L529.2,1474.4 L530.1,1476.4 L531.1,1478.3 L532.0,1480.3 L533.0,1482.2 L534.0,1484.1 L535.0,1486.0 L536.0,1487.9 L537.0,1489.8 L538.0,1491.7 L539.1,1493.6 L540.1,1495.5 L541.2,1497.3 L542.2,1499.2 L543.3,1501.0 L544.4,1502.9 L545.5,1504.7 L546.6,1506.5 L547.8,1508.3 L548.9,1510.1 L550.1,1511.9 L551.2,1513.6 L552.4,1515.4 L553.6,1517.1 L554.8,1518.9 L556.0,1520.6 L557.3,1522.3 L558.5,1524.0 L559.8,1525.7 L561.0,1527.4 L562.3,1529.0 L563.6,1530.7 L564.9,1532.3 L566.3,1533.9 L567.6,1535.5 L569.0,1537.1 L570.3,1538.7 L571.7,1540.3 L573.1,1541.8 L574.6,1543.3 L576.0,1544.9 L577.4,1546.4 L578.9,1547.9 L580.4,1549.3 L581.9,1550.8 L583.4,1552.2 L584.9,1553.7 L586.4,1555.1 L588.0,1556.5 L589.5,1557.8 L591.1,1559.2 L592.7,1560.5 L594.3,1561.9 L595.9,1563.2 L597.5,1564.5 L599.2,1565.8 L600.8,1567.0 L602.5,1568.3 L604.1,1569.5 L605.8,1570.7 L607.5,1571.9 L609.2,1573.1 L611.0,1574.3 L612.7,1575.4 L614.4,1576.6 L616.2,1577.7 L618.0,1578.8 L619.7,1579.8 L621.5,1580.9 L623.3,1581.9 L625.2,1583.0 L627.0,1584.0 L628.8,1585.0 L630.7,1585.9 L632.5,1586.9 L634.4,1587.8 L636.2,1588.7 L638.1,1589.6 L640.0,1590.5 L641.9,1591.4 L643.8,1592.2 L645.8,1593.0 L647.7,1593.8 L649.6,1594.6 L651.6,1595.4 L653.5,1596.1 L655.5,1596.8 L657.5,1597.5 L659.5,1598.2 L661.5,1598.9 L663.5,1599.5 L665.5,1600.1 L667.5,1600.7 L669.5,1601.3 L671.5,1601.9 L673.6,1602.5 L675.6,1603.0 L677.7,1603.5 L679.7,1604.0 L681.8,1604.5 L683.9,1605.0 L685.9,1605.4 L688.0,1605.9 L690.1,1606.3 L692.2,1606.7 L694.3,1607.1 L696.4,1607.5 L698.5,1607.9 L700.6,1608.2 L702.7,1608.6 L704.8,1608.9 L706.9,1609.2 L709.1,1609.6 L711.2,1609.9 L713.3,1610.2 L715.5,1610.4 L717.6,1610.7 L719.7,1611.0 L721.9,1611.3 L724.0,1611.5 L726.2,1611.8 L728.3,1612.0 L730.5,1612.2 L732.6,1612.4 L734.8,1612.7 L736.9,1612.9 L739.1,1613.1 L741.2,1613.3 L743.4,1613.5 L745.5,1613.7 L747.7,1613.9 L749.8,1614.1 L752.0,1614.2 L754.2,1614.4 L756.3,1614.6 L758.5,1614.8 L760.6,1614.9 L762.8,1615.1 L764.9,1615.3 L767.1,1615.5 L769.2,1615.6 L771.4,1615.8 L773.5,1615.9 L775.7,1616.1 L777.8,1616.2 L779.9,1616.4 L782.1,1616.5 L784.2,1616.7 L786.4,1616.8 L788.5,1617.0 L790.7,1617.1 L792.8,1617.2 L795.0,1617.4 L797.1,1617.5 L799.3,1617.6 L801.4,1617.7 L803.5,1617.9 L805.7,1618.0 L807.8,1618.1 L810.0,1618.2 L812.1,1618.3 L814.2,1618.4 L816.4,1618.6 L818.5,1618.7 L820.7,1618.8 L822.8,1618.9 L824.9,1619.0 L827.1,1619.1 L829.2,1619.2 L831.4,1619.3 L833.5,1619.4 L835.6,1619.5 L837.8,1619.5 L839.9,1619.6 L842.0,1619.7 L844.2,1619.8 L846.3,1619.9 L848.4,1620.0 L850.6,1620.0 L852.7,1620.1 L854.9,1620.2 L857.0,1620.3 L859.1,1620.3 L861.3,1620.4 L863.4,1620.5 L865.5,1620.6 L867.7,1620.6 L869.8,1620.7 L871.9,1620.7 L874.1,1620.8 L876.2,1620.9 L878.3,1620.9 L880.4,1621.0 L882.6,1621.0 L884.7,1621.1 L886.8,1621.2 L889.0,1621.2 L891.1,1621.3 L893.2,1621.3 L895.4,1621.4 L897.5,1621.4 L899.6,1621.5 L901.8,1621.5 L903.9,1621.5 L906.0,1621.6 L908.1,1621.6 L910.3,1621.7 L912.4,1621.7 L914.5,1621.8 L916.7,1621.8 L918.8,1621.8 L920.9,1621.9 L923.0,1621.9 L925.2,1621.9 L927.3,1622.0 L929.4,1622.0 L931.6,1622.0 L933.7,1622.1 L935.8,1622.1 L937.9,1622.1 L940.1,1622.2 L942.2,1622.2 L944.3,1622.2 L946.4,1622.2 L948.6,1622.3 L950.7,1622.3 L952.8,1622.3 L954.9,1622.3 L957.1,1622.4 L959.2,1622.4 L961.3,1622.4 L963.5,1622.4 L965.6,1622.5 L967.7,1622.5 L969.8,1622.5 L972.0,1622.5 L974.1,1622.6 L976.2,1622.6 L978.3,1622.6 L980.5,1622.6 L982.6,1622.7 L984.7,1622.7 L986.8,1622.7 L989.0,1622.7 L991.1,1622.7 L993.2,1622.8 L995.3,1622.8 L997.5,1622.8 L999.6,1622.8 L1001.7,1622.8 L1003.9,1622.9 L1006.0,1622.9 L1008.1,1622.9 L1010.2,1622.9 L1012.4,1623.0 L1014.5,1623.0 L1016.6,1623.0 L1018.7,1623.0 L1020.9,1623.0 L1023.0,1623.1 L1025.1,1623.1 L1027.2,1623.1 L1029.4,1623.1 L1031.5,1623.2 L1033.6,1623.2 L1035.7,1623.2 L1037.9,1623.2 L1040.0,1623.2 L1042.1,1623.3 L1044.3,1623.3 L1046.4,1623.3 L1048.5,1623.3 L1050.6,1623.4 L1052.8,1623.4 L1054.9,1623.4 L1057.0,1623.4 L1059.1,1623.4 L1061.3,1623.5 L1063.4,1623.5 L1065.5,1623.5 L1067.7,1623.5 L1069.8,1623.6 L1071.9,1623.6 L1074.0,1623.6 L1076.2,1623.6 L1078.3,1623.7 L1080.4,1623.7 L1082.5,1623.7 L1084.7,1623.7 L1086.8,1623.8 L1088.9,1623.8 L1091.1,1623.8 L1093.2,1623.8 L1095.3,1623.8 L1097.4,1623.9 L1099.6,1623.9 L1101.7,1623.9 L1103.8,1623.9 L1105.9,1624.0 L1108.1,1624.0 L1110.2,1624.0 L1112.3,1624.0 L1114.5,1624.1 L1116.6,1624.1 L1118.7,1624.1 L1120.8,1624.1 L1123.0,1624.2 L1125.1,1624.2 L1127.2,1624.2 L1129.4,1624.2 L1131.5,1624.3 L1133.6,1624.3 L1135.7,1624.3 L1137.9,1624.3 L1140.0,1624.4 L1142.1,1624.4 L1144.2,1624.4 L1146.4,1624.4 L1148.5,1624.5 L1150.6,1624.5 L1152.8,1624.5 L1154.9,1624.5 L1157.0,1624.6 L1159.1,1624.6 L1161.3,1624.6 L1163.4,1624.6 L1165.5,1624.7 L1167.7,1624.7 L1169.8,1624.7 L1171.9,1624.7 L1174.0,1624.8 L1176.2,1624.8 L1178.3,1624.8 L1180.4,1624.8 L1182.6,1624.9 L1184.7,1624.9 L1186.8,1624.9 L1188.9,1624.9 L1191.1,1625.0 L1193.2,1625.0 L1195.3,1625.0 L1197.5,1625.0 L1199.6,1625.1 L1201.7,1625.1 L1203.8,1625.1 L1206.0,1625.1 L1208.1,1625.2 L1210.2,1625.2 L1212.4,1625.2 L1214.5,1625.2 L1216.6,1625.3 L1218.7,1625.3 L1220.9,1625.3 L1223.0,1625.3 L1225.1,1625.4 L1227.3,1625.4 L1229.4,1625.4 L1231.5,1625.4 L1233.6,1625.5 L1235.8,1625.5 L1237.9,1625.5 L1240.0,1625.5 L1242.2,1625.6 L1244.3,1625.6 L1246.4,1625.6 L1248.6,1625.6 L1250.7,1625.7 L1252.8,1625.7 L1254.9,1625.7 L1257.1,1625.7 L1259.2,1625.8 L1261.3,1625.8 L1263.5,1625.8 L1265.6,1625.8 L1267.7,1625.9 L1269.8,1625.9 L1272.0,1625.9 L1274.1,1625.9 L1276.2,1626.0 L1278.4,1626.0 L1280.5,1626.0 L1282.6,1626.1 L1284.8,1626.1 L1286.9,1626.1 L1289.0,1626.1 L1291.1,1626.2 L1293.3,1626.2 L1295.4,1626.2 L1297.5,1626.2 L1299.7,1626.3 L1301.8,1626.3 L1303.9,1626.3 L1306.0,1626.3 L1308.2,1626.4 L1310.3,1626.4 L1312.4,1626.4 L1314.6,1626.4 L1316.7,1626.5 L1318.8,1626.5 L1321.0,1626.5 L1323.1,1626.5 L1325.2,1626.6 L1327.3,1626.6 L1329.5,1626.6 L1331.6,1626.6 L1333.7,1626.7 L1335.9,1626.7 L1338.0,1626.7 L1340.1,1626.7 L1342.3,1626.8 L1344.4,1626.8 L1346.5,1626.8 L1348.6,1626.8 L1350.8,1626.9 L1352.9,1626.9 L1355.0,1626.9 L1357.2,1627.0 L1359.3,1627.0 L1361.4,1627.0 L1363.6,1627.0 L1365.7,1627.1 L1367.8,1627.1 L1369.9,1627.1 L1372.1,1627.1 L1374.2,1627.2 L1376.3,1627.2 L1378.5,1627.2 L1380.6,1627.2 L1382.7,1627.3 L1384.9,1627.3 L1387.0,1627.3 L1389.1,1627.3 L1391.2,1627.4 L1393.4,1627.4 L1395.5,1627.4 L1397.6,1627.4 L1399.8,1627.5 L1401.9,1627.5 L1404.0,1627.5 L1406.2,1627.5 L1408.3,1627.6 L1410.4,1627.6 L1412.5,1627.6 L1414.7,1627.6 L1416.8,1627.7 L1418.9,1627.7 L1421.1,1627.7 L1423.2,1627.7 L1425.3,1627.8 L1427.5,1627.8 L1429.6,1627.8 L1431.7,1627.8 L1433.8,1627.9 L1436.0,1627.9 L1438.1,1627.9 L1440.2,1627.9 L1442.4,1628.0 L1444.5,1628.0 L1446.6,1628.0 L1448.8,1628.0 L1450.9,1628.1 L1453.0,1628.1 L1455.2,1628.1 L1457.3,1628.1 L1459.4,1628.2 L1461.5,1628.2 L1463.7,1628.2 L1465.8,1628.2 L1467.9,1628.3 L1470.1,1628.3 L1472.2,1628.3 L1474.3,1628.3 L1476.5,1628.3 L1478.6,1628.4 L1480.7,1628.4 L1482.9,1628.4 L1485.0,1628.4 L1487.1,1628.5 L1489.2,1628.5 L1491.4,1628.5 L1493.5,1628.5 L1495.6,1628.6 L1497.8,1628.6 L1499.9,1628.6 L1502.0,1628.6 L1504.2,1628.7 L1506.3,1628.7 L1508.4,1628.7 L1510.6,1628.7 L1512.7,1628.8 L1514.8,1628.8 L1516.9,1628.8 L1519.1,1628.8 L1521.2,1628.8 L1523.3,1628.9 L1525.5,1628.9 L1527.6,1628.9 L1529.7,1628.9 L1531.9,1629.0 L1534.0,1629.0 L1536.1,1629.0 L1538.3,1629.0 L1540.4,1629.0 L1542.5,1629.1 L1544.6,1629.1 L1546.8,1629.1 L1548.9,1629.1 L1551.0,1629.2 L1553.2,1629.2 L1555.3,1629.2 L1557.4,1629.2 L1559.6,1629.3 L1561.7,1629.3 L1563.8,1629.3 L1566.0,1629.3 L1568.1,1629.3 L1570.2,1629.4 L1572.3,1629.4 L1574.5,1629.4 L1576.6,1629.4 L1578.7,1629.4 L1580.9,1629.5 L1583.0,1629.5 L1585.1,1629.5 L1587.3,1629.5 L1589.4,1629.6 L1591.5,1629.6 L1593.7,1629.6 L1595.8,1629.6 L1597.9,1629.6 L1600.0,1629.7 L1602.2,1629.7 L1604.3,1629.7 L1606.4,1629.7 L1608.6,1629.7 L1610.7,1629.8 L1612.8,1629.8 L1615.0,1629.8 L1617.1,1629.8 L1619.2,1629.8 L1621.4,1629.9 L1623.5,1629.9 L1625.6,1629.9 L1627.7,1629.9 L1629.9,1630.0 L1632.0,1630.0 L1634.1,1630.0 L1636.3,1630.0 L1638.4,1630.0 L1640.5,1630.0 L1642.7,1630.1 L1644.8,1630.1 L1646.9,1630.1 L1649.1,1630.1 L1651.2,1630.1 L1653.3,1630.2 L1655.5,1630.2 L1657.6,1630.2 L1659.7,1630.2 L1661.8,1630.2 L1664.0,1630.3 L1666.1,1630.3 L1668.2,1630.3 L1670.4,1630.3 L1672.5,1630.3 L1674.6,1630.4 L1676.8,1630.4 L1678.9,1630.4 L1681.0,1630.4 L1683.2,1630.4 L1685.3,1630.4 L1687.4,1630.5 L1689.5,1630.5 L1691.7,1630.5 L1693.8,1630.5 L1695.9,1630.5 L1698.1,1630.6 L1700.2,1630.6 L1702.3,1630.6 L1704.5,1630.6 L1706.6,1630.6 L1708.7,1630.6 L1710.9,1630.7 L1713.0,1630.7 L1715.1,1630.7 L1717.2,1630.7 L1719.4,1630.7 L1721.5,1630.7 L1723.6,1630.8 L1725.8,1630.8 L1727.9,1630.8 L1730.0,1630.8 L1732.2,1630.8 L1734.3,1630.8 L1736.4,1630.9 L1738.6,1630.9 L1740.7,1630.9 L1742.8,1630.9 L1744.9,1630.9 L1747.1,1630.9 L1749.2,1630.9 L1751.3,1631.0 L1753.5,1631.0 L1755.6,1631.0 L1757.7,1631.0 L1759.9,1631.0 L1762.0,1631.0 L1764.1,1631.1 L1766.3,1631.1 L1768.4,1631.1 L1770.5,1631.1 L1772.6,1631.1 L1774.8,1631.1 L1776.9,1631.1 L1779.0,1631.2 L1781.2,1631.2 L1783.3,1631.2 L1785.4,1631.2 L1787.6,1631.2 L1789.7,1631.2 L1791.8,1631.2 L1794.0,1631.2 L1796.1,1631.3 L1798.2,1631.3 L1800.3,1631.3 L1802.5,1631.3 L1804.6,1631.3 L1806.7,1631.3 L1808.9,1631.3 L1811.0,1631.3 L1813.1,1631.4 L1815.3,1631.4 L1817.4,1631.4 L1819.5,1631.4 L1821.7,1631.4 L1823.8,1631.4 L1825.9,1631.4 L1828.0,1631.4 L1830.2,1631.5 L1832.3,1631.5 L1834.4,1631.5 L1836.6,1631.5 L1838.7,1631.5 L1840.8,1631.5 L1843.0,1631.5 L1845.1,1631.5 L1847.2,1631.5 L1849.4,1631.6 L1851.5,1631.6 L1853.6,1631.6 L1855.7,1631.6 L1857.9,1631.6 L1860.0,1631.6 L1862.1,1631.6 L1864.3,1631.6 L1866.4,1631.6 L1868.5,1631.6 L1870.7,1631.6 L1872.8,1631.7 L1874.9,1631.7 L1877.0,1631.7 L1879.2,1631.7 L1881.3,1631.7 L1883.4,1631.7 L1885.6,1631.7 L1887.7,1631.7 L1889.8,1631.7 L1892.0,1631.7 L1894.1,1631.7 L1896.2,1631.7 L1898.4,1631.8 L1900.5,1631.8 L1902.6,1631.8 L1904.7,1631.8 L1906.9,1631.8 L1909.0,1631.8 L1911.1,1631.8 L1913.3,1631.8 L1915.4,1631.8 L1917.5,1631.8 L1919.7,1631.8 L1921.8,1631.8 L1923.9,1631.8 L1926.0,1631.8 L1928.2,1631.8 L1930.3,1631.9 L1932.4,1631.9 L1934.6,1631.9 L1936.7,1631.9 L1938.8,1631.9 L1941.0,1631.9 L1943.1,1631.9 L1945.2,1631.9 L1947.3,1631.9 L1949.5,1631.9 L1951.6,1631.9 L1953.7,1631.9 L1955.9,1631.9 L1958.0,1631.9 L1960.1,1631.9 L1962.3,1631.9 L1964.4,1631.9 L1966.5,1631.9 L1968.6,1631.9 L1970.8,1631.9 L1972.9,1631.9 L1975.0,1631.9 L1977.2,1631.9 L1979.3,1631.9 L1981.4,1631.9 L1983.6,1631.9 L1985.7,1631.9 L1987.8,1631.9 L1989.9,1631.9 L1992.1,1631.9 L1994.2,1632.0 L1996.3,1632.0 L1998.5,1632.0 L2000.6,1632.0 L2002.7,1632.0 L2004.8,1632.0 L2007.0,1632.0 L2009.1,1632.0 L2011.2,1632.0 L2013.4,1632.0 L2015.5,1632.0 L2017.6,1632.0 L2019.8,1632.0 L2021.9,1632.0 L2024.0,1632.0 L2026.1,1631.9 L2028.3,1631.9 L2030.4,1631.9 L2032.5,1631.9 L2034.7,1631.9 L2036.8,1631.9 L2038.9,1631.9 L2041.0,1631.9 L2043.2,1631.9 L2045.3,1631.9 L2047.4,1631.9 L2049.6,1631.9 L2051.7,1631.9 L2053.8,1631.9 L2055.9,1631.9 L2058.1,1631.9 L2060.2,1631.9 L2062.3,1631.9 L2064.5,1631.9 L2066.6,1631.9 L2068.7,1631.9 L2070.9,1631.9 L2073.0,1631.9 L2075.1,1631.9 L2077.2,1631.9" stroke="#ff0000"/>
</g>
<g stroke="#000" fill="none" shape-rendering="crispEdges">
<path d="M324,52H2190V58H324Z M324,1751H2190V1758H324Z M324,52H331V1758H324Z M2183,52H2190V1758H2183Z" fill="#000" stroke="none"/>
<line x1="311.5" y1="1754.7" x2="327.5" y2="1754.7" stroke-width="6.6"/>
<line x1="296.0" y1="1641.4" x2="327.5" y2="1641.4" stroke-width="6.6"/>
<line x1="311.5" y1="1528.1" x2="327.5" y2="1528.1" stroke-width="6.6"/>
<line x1="296.0" y1="1414.8" x2="327.5" y2="1414.8" stroke-width="6.6"/>
<line x1="311.5" y1="1301.5" x2="327.5" y2="1301.5" stroke-width="6.6"/>
<line x1="296.0" y1="1188.1" x2="327.5" y2="1188.1" stroke-width="6.6"/>
<line x1="311.5" y1="1074.8" x2="327.5" y2="1074.8" stroke-width="6.6"/>
<line x1="296.0" y1="961.5" x2="327.5" y2="961.5" stroke-width="6.6"/>
<line x1="311.5" y1="848.2" x2="327.5" y2="848.2" stroke-width="6.6"/>
<line x1="296.0" y1="734.9" x2="327.5" y2="734.9" stroke-width="6.6"/>
<line x1="311.5" y1="621.6" x2="327.5" y2="621.6" stroke-width="6.6"/>
<line x1="296.0" y1="508.2" x2="327.5" y2="508.2" stroke-width="6.6"/>
<line x1="311.5" y1="394.9" x2="327.5" y2="394.9" stroke-width="6.6"/>
<line x1="296.0" y1="281.6" x2="327.5" y2="281.6" stroke-width="6.6"/>
<line x1="311.5" y1="168.3" x2="327.5" y2="168.3" stroke-width="6.6"/>
<line x1="296.0" y1="55.0" x2="327.5" y2="55.0" stroke-width="6.6"/>
<line x1="327.4" y1="1754.5" x2="327.4" y2="1786.0" stroke-width="6.6"/>
<line x1="436.8" y1="1754.5" x2="436.8" y2="1770.0" stroke-width="6.6"/>
<line x1="546.1" y1="1754.5" x2="546.1" y2="1786.0" stroke-width="6.6"/>
<line x1="655.5" y1="1754.5" x2="655.5" y2="1770.0" stroke-width="6.6"/>
<line x1="764.9" y1="1754.5" x2="764.9" y2="1786.0" stroke-width="6.6"/>
<line x1="874.2" y1="1754.5" x2="874.2" y2="1770.0" stroke-width="6.6"/>
<line x1="983.6" y1="1754.5" x2="983.6" y2="1786.0" stroke-width="6.6"/>
<line x1="1093.0" y1="1754.5" x2="1093.0" y2="1770.0" stroke-width="6.6"/>
<line x1="1202.3" y1="1754.5" x2="1202.3" y2="1786.0" stroke-width="6.6"/>
<line x1="1311.7" y1="1754.5" x2="1311.7" y2="1770.0" stroke-width="6.6"/>
<line x1="1421.0" y1="1754.5" x2="1421.0" y2="1786.0" stroke-width="6.6"/>
<line x1="1530.4" y1="1754.5" x2="1530.4" y2="1770.0" stroke-width="6.6"/>
<line x1="1639.8" y1="1754.5" x2="1639.8" y2="1786.0" stroke-width="6.6"/>
<line x1="1749.1" y1="1754.5" x2="1749.1" y2="1770.0" stroke-width="6.6"/>
<line x1="1858.5" y1="1754.5" x2="1858.5" y2="1786.0" stroke-width="6.6"/>
<line x1="1967.9" y1="1754.5" x2="1967.9" y2="1770.0" stroke-width="6.6"/>
<line x1="2077.2" y1="1754.5" x2="2077.2" y2="1786.0" stroke-width="6.6"/>
<line x1="2186.6" y1="1754.5" x2="2186.6" y2="1770.0" stroke-width="6.6"/>
</g>
<text class="tk" transform="translate(278.4,1666.9) scale(0.92,1)" letter-spacing="3.00" text-anchor="end">0</text>
<text class="tk" transform="translate(278.4,1440.3) scale(0.92,1)" letter-spacing="3.00" text-anchor="end">100</text>
<text class="tk" transform="translate(278.4,1213.6) scale(0.92,1)" letter-spacing="3.00" text-anchor="end">200</text>
<text class="tk" transform="translate(278.4,987.0) scale(0.92,1)" letter-spacing="3.00" text-anchor="end">300</text>
<text class="tk" transform="translate(278.4,760.4) scale(0.92,1)" letter-spacing="3.00" text-anchor="end">400</text>
<text class="tk" transform="translate(278.4,533.8) scale(0.92,1)" letter-spacing="3.00" text-anchor="end">500</text>
<text class="tk" transform="translate(278.4,307.1) scale(0.92,1)" letter-spacing="3.00" text-anchor="end">600</text>
<text class="tk" transform="translate(278.4,80.5) scale(0.92,1)" letter-spacing="3.00" text-anchor="end">700</text>
<text class="tk" transform="translate(328.9,1864.5) scale(0.92,1)" letter-spacing="3.00" text-anchor="middle">0</text>
<text class="tk" transform="translate(547.6,1864.5) scale(0.92,1)" letter-spacing="3.00" text-anchor="middle">1</text>
<text class="tk" transform="translate(766.4,1864.5) scale(0.92,1)" letter-spacing="3.00" text-anchor="middle">2</text>
<text class="tk" transform="translate(985.1,1864.5) scale(0.92,1)" letter-spacing="3.00" text-anchor="middle">3</text>
<text class="tk" transform="translate(1203.8,1864.5) scale(0.92,1)" letter-spacing="3.00" text-anchor="middle">4</text>
<text class="tk" transform="translate(1422.5,1864.5) scale(0.92,1)" letter-spacing="3.00" text-anchor="middle">5</text>
<text class="tk" transform="translate(1641.3,1864.5) scale(0.92,1)" letter-spacing="3.00" text-anchor="middle">6</text>
<text class="tk" transform="translate(1860.0,1864.5) scale(0.92,1)" letter-spacing="3.00" text-anchor="middle">7</text>
<text class="tk" transform="translate(2078.7,1864.5) scale(0.92,1)" letter-spacing="3.00" text-anchor="middle">8</text>
<text class="b" font-size="97.6" x="581" y="1994" textLength="1305.3" lengthAdjust="spacingAndGlyphs">True value of root diameter/cm</text>
<text class="b" font-size="98.6" transform="translate(96,1253) rotate(-90)" textLength="720" lengthAdjust="spacingAndGlyphs">Relative error/%</text>
<text class="lg" x="565" y="138" textLength="552.7" lengthAdjust="spacingAndGlyphs">Antenna frequency</text>
<g stroke-linecap="round" stroke-width="12.6" fill="none">
<line x1="548.6" y1="205.4" x2="716.1" y2="205.4" stroke="#0018c0"/>
<line x1="1082.5" y1="205.4" x2="1249.1" y2="205.4" stroke="#ff8000"/>
<line x1="1634.3" y1="205.4" x2="1801.2" y2="205.4" stroke="#ff0000"/>
</g>
<text class="lg" x="733.3" y="230.3" textLength="277.4" lengthAdjust="spacingAndGlyphs">500 MHz</text>
<text class="lg" x="1266" y="230.3" textLength="277.4" lengthAdjust="spacingAndGlyphs">750 MHz</text>
<text class="lg" x="1819" y="230.3" textLength="313" lengthAdjust="spacingAndGlyphs">1000 MHz</text>
<g stroke="#000" fill="none" shape-rendering="crispEdges">
<line x1="1156.5" y1="326.1" x2="1156.5" y2="1084.0" stroke-width="6.8"/>
<line x1="1125.1" y1="1080.5" x2="2068.9" y2="1080.5" stroke-width="7"/>
<line x1="1140.1" y1="987.4" x2="1156.5" y2="987.4" stroke-width="6.6"/>
<line x1="1125.1" y1="893.4" x2="1156.5" y2="893.4" stroke-width="6.6"/>
<line x1="1140.1" y1="799.4" x2="1156.5" y2="799.4" stroke-width="6.6"/>
<line x1="1125.1" y1="705.4" x2="1156.5" y2="705.4" stroke-width="6.6"/>
<line x1="1140.1" y1="611.4" x2="1156.5" y2="611.4" stroke-width="6.6"/>
<line x1="1125.1" y1="517.4" x2="1156.5" y2="517.4" stroke-width="6.6"/>
<line x1="1140.1" y1="423.4" x2="1156.5" y2="423.4" stroke-width="6.6"/>
<line x1="1125.1" y1="329.4" x2="1156.5" y2="329.4" stroke-width="6.6"/>
<line x1="1156.5" y1="1080.5" x2="1156.5" y2="1112.0" stroke-width="6.8"/>
<line x1="1257.5" y1="1080.5" x2="1257.5" y2="1096.0" stroke-width="6.8"/>
<line x1="1358.5" y1="1080.5" x2="1358.5" y2="1112.0" stroke-width="6.8"/>
<line x1="1459.5" y1="1080.5" x2="1459.5" y2="1096.0" stroke-width="6.8"/>
<line x1="1560.5" y1="1080.5" x2="1560.5" y2="1112.0" stroke-width="6.8"/>
<line x1="1661.5" y1="1080.5" x2="1661.5" y2="1096.0" stroke-width="6.8"/>
<line x1="1762.5" y1="1080.5" x2="1762.5" y2="1112.0" stroke-width="6.8"/>
<line x1="1863.5" y1="1080.5" x2="1863.5" y2="1096.0" stroke-width="6.8"/>
<line x1="1964.5" y1="1080.5" x2="1964.5" y2="1112.0" stroke-width="6.8"/>
<line x1="2065.5" y1="1080.5" x2="2065.5" y2="1096.0" stroke-width="6.8"/>
</g>
<clipPath id="ic"><rect x="1156.4" y="300" width="900" height="780"/></clipPath>
<g fill="none" stroke-linejoin="round" stroke-width="11.6" clip-path="url(#ic)">
<path d="M1146.4,496.2 L1150.1,499.3 L1153.9,502.3 L1157.6,505.1 L1161.3,507.7 L1165.1,510.2 L1168.8,512.6 L1172.5,514.9 L1176.3,517.0 L1180.0,519.0 L1183.8,520.9 L1187.5,522.7 L1191.2,524.4 L1195.0,525.9 L1198.7,527.4 L1202.4,528.8 L1206.2,530.1 L1209.9,531.3 L1213.6,532.5 L1217.4,533.5 L1221.1,534.5 L1224.8,535.5 L1228.6,536.3 L1232.3,537.2 L1236.1,537.9 L1239.8,538.6 L1243.5,539.3 L1247.3,540.0 L1251.0,540.6 L1254.7,541.1 L1258.5,541.7 L1262.2,542.2 L1265.9,542.8 L1269.7,543.3 L1273.4,543.8 L1277.1,544.3 L1280.9,544.8 L1284.6,545.3 L1288.4,545.8 L1292.1,546.4 L1295.8,547.0 L1299.6,547.6 L1303.3,548.2 L1307.0,548.8 L1310.8,549.5 L1314.5,550.3 L1318.2,551.1 L1322.0,551.9 L1325.7,552.7 L1329.4,553.6 L1333.2,554.5 L1336.9,555.5 L1340.7,556.5 L1344.4,557.5 L1348.1,558.6 L1351.9,559.7 L1355.6,560.8 L1359.3,562.0 L1363.1,563.2 L1366.8,564.5 L1370.5,565.8 L1374.3,567.1 L1378.0,568.4 L1381.7,569.8 L1385.5,571.3 L1389.2,572.8 L1393.0,574.3 L1396.7,575.8 L1400.4,577.4 L1404.2,579.0 L1407.9,580.7 L1411.6,582.4 L1415.4,584.1 L1419.1,585.9 L1422.8,587.7 L1426.6,589.6 L1430.3,591.4 L1434.0,593.4 L1437.8,595.3 L1441.5,597.3 L1445.2,599.3 L1449.0,601.3 L1452.7,603.3 L1456.5,605.3 L1460.2,607.4 L1463.9,609.4 L1467.7,611.4 L1471.4,613.5 L1475.1,615.5 L1478.9,617.5 L1482.6,619.5 L1486.3,621.5 L1490.1,623.4 L1493.8,625.4 L1497.5,627.3 L1501.3,629.1 L1505.0,631.0 L1508.8,632.7 L1512.5,634.5 L1516.2,636.2 L1520.0,637.8 L1523.7,639.4 L1527.4,640.9 L1531.2,642.4 L1534.9,643.8 L1538.6,645.2 L1542.4,646.5 L1546.1,647.7 L1549.8,648.9 L1553.6,650.0 L1557.3,651.1 L1561.1,652.1 L1564.8,653.0 L1568.5,653.9 L1572.3,654.8 L1576.0,655.6 L1579.7,656.3 L1583.5,657.0 L1587.2,657.6 L1590.9,658.2 L1594.7,658.7 L1598.4,659.1 L1602.1,659.5 L1605.9,659.9 L1609.6,660.2 L1613.4,660.4 L1617.1,660.6 L1620.8,660.7 L1624.6,660.8 L1628.3,660.8 L1632.0,660.8 L1635.8,660.8 L1639.5,660.7 L1643.2,660.6 L1647.0,660.4 L1650.7,660.2 L1654.4,660.0 L1658.2,659.8 L1661.9,659.5 L1665.7,659.3 L1669.4,659.0 L1673.1,658.7 L1676.9,658.4 L1680.6,658.1 L1684.3,657.7 L1688.1,657.4 L1691.8,657.1 L1695.5,656.7 L1699.3,656.4 L1703.0,656.0 L1706.7,655.7 L1710.5,655.3 L1714.2,655.0 L1717.9,654.6 L1721.7,654.3 L1725.4,653.9 L1729.2,653.6 L1732.9,653.2 L1736.6,652.9 L1740.4,652.5 L1744.1,652.2 L1747.8,651.9 L1751.6,651.6 L1755.3,651.2 L1759.0,650.9 L1762.8,650.6 L1766.5,650.4 L1770.2,650.1 L1774.0,649.8 L1777.7,649.6 L1781.5,649.4 L1785.2,649.1 L1788.9,648.9 L1792.7,648.8 L1796.4,648.6 L1800.1,648.4 L1803.9,648.3 L1807.6,648.2 L1811.3,648.1 L1815.1,648.1 L1818.8,648.0 L1822.5,648.0 L1826.3,648.0 L1830.0,648.0 L1833.8,648.1 L1837.5,648.2 L1841.2,648.3 L1845.0,648.4 L1848.7,648.6 L1852.4,648.8 L1856.2,649.0 L1859.9,649.2 L1863.6,649.4 L1867.4,649.7 L1871.1,650.0 L1874.8,650.2 L1878.6,650.5 L1882.3,650.9 L1886.1,651.2 L1889.8,651.5 L1893.5,651.8 L1897.3,652.2 L1901.0,652.5 L1904.7,652.9 L1908.5,653.3 L1912.2,653.6 L1915.9,654.0 L1919.7,654.3 L1923.4,654.7 L1927.1,655.1 L1930.9,655.4 L1934.6,655.8 L1938.4,656.1 L1942.1,656.4 L1945.8,656.8 L1949.6,657.1 L1953.3,657.4 L1957.0,657.7 L1960.8,658.0 L1964.5,658.2" stroke="#0000ff" stroke-linecap="butt"/>
<circle cx="1964.5" cy="658.2" r="5.8" fill="#0000ff" stroke="none"/>
<path d="M1146.4,603.6 L1150.1,603.8 L1153.9,604.2 L1157.6,604.6 L1161.3,605.0 L1165.1,605.5 L1168.8,606.0 L1172.5,606.6 L1176.3,607.2 L1180.0,607.9 L1183.8,608.6 L1187.5,609.4 L1191.2,610.2 L1195.0,611.0 L1198.7,611.9 L1202.4,612.8 L1206.2,613.7 L1209.9,614.7 L1213.6,615.7 L1217.4,616.7 L1221.1,617.8 L1224.8,618.9 L1228.6,620.0 L1232.3,621.2 L1236.1,622.3 L1239.8,623.5 L1243.5,624.7 L1247.3,626.0 L1251.0,627.2 L1254.7,628.5 L1258.5,629.7 L1262.2,631.0 L1265.9,632.4 L1269.7,633.7 L1273.4,635.0 L1277.1,636.3 L1280.9,637.7 L1284.6,639.1 L1288.4,640.4 L1292.1,641.8 L1295.8,643.1 L1299.6,644.5 L1303.3,645.9 L1307.0,647.3 L1310.8,648.6 L1314.5,650.0 L1318.2,651.3 L1322.0,652.7 L1325.7,654.0 L1329.4,655.3 L1333.2,656.6 L1336.9,657.9 L1340.7,659.2 L1344.4,660.4 L1348.1,661.6 L1351.9,662.8 L1355.6,664.0 L1359.3,665.1 L1363.1,666.2 L1366.8,667.3 L1370.5,668.4 L1374.3,669.4 L1378.0,670.4 L1381.7,671.4 L1385.5,672.3 L1389.2,673.3 L1393.0,674.2 L1396.7,675.1 L1400.4,676.0 L1404.2,676.9 L1407.9,677.8 L1411.6,678.6 L1415.4,679.5 L1419.1,680.4 L1422.8,681.2 L1426.6,682.1 L1430.3,683.0 L1434.0,683.8 L1437.8,684.7 L1441.5,685.6 L1445.2,686.4 L1449.0,687.3 L1452.7,688.2 L1456.5,689.1 L1460.2,689.9 L1463.9,690.8 L1467.7,691.7 L1471.4,692.5 L1475.1,693.4 L1478.9,694.3 L1482.6,695.1 L1486.3,696.0 L1490.1,696.9 L1493.8,697.7 L1497.5,698.6 L1501.3,699.5 L1505.0,700.3 L1508.8,701.2 L1512.5,702.0 L1516.2,702.9 L1520.0,703.7 L1523.7,704.6 L1527.4,705.4 L1531.2,706.3 L1534.9,707.1 L1538.6,707.9 L1542.4,708.8 L1546.1,709.6 L1549.8,710.4 L1553.6,711.2 L1557.3,712.0 L1561.1,712.9 L1564.8,713.7 L1568.5,714.5 L1572.3,715.3 L1576.0,716.0 L1579.7,716.8 L1583.5,717.6 L1587.2,718.4 L1590.9,719.2 L1594.7,719.9 L1598.4,720.7 L1602.1,721.4 L1605.9,722.2 L1609.6,722.9 L1613.4,723.6 L1617.1,724.4 L1620.8,725.1 L1624.6,725.8 L1628.3,726.5 L1632.0,727.2 L1635.8,727.9 L1639.5,728.6 L1643.2,729.2 L1647.0,729.9 L1650.7,730.6 L1654.4,731.2 L1658.2,731.8 L1661.9,732.5 L1665.7,733.1 L1669.4,733.7 L1673.1,734.3 L1676.9,734.9 L1680.6,735.5 L1684.3,736.1 L1688.1,736.6 L1691.8,737.2 L1695.5,737.7 L1699.3,738.3 L1703.0,738.8 L1706.7,739.3 L1710.5,739.8 L1714.2,740.3 L1717.9,740.8 L1721.7,741.3 L1725.4,741.7 L1729.2,742.2 L1732.9,742.6 L1736.6,743.1 L1740.4,743.5 L1744.1,743.9 L1747.8,744.3 L1751.6,744.7 L1755.3,745.1 L1759.0,745.4 L1762.8,745.8 L1766.5,746.1 L1770.2,746.5 L1774.0,746.8 L1777.7,747.1 L1781.5,747.4 L1785.2,747.7 L1788.9,747.9 L1792.7,748.2 L1796.4,748.4 L1800.1,748.7 L1803.9,748.9 L1807.6,749.1 L1811.3,749.3 L1815.1,749.5 L1818.8,749.6 L1822.5,749.8 L1826.3,749.9 L1830.0,750.1 L1833.8,750.2 L1837.5,750.3 L1841.2,750.4 L1845.0,750.5 L1848.7,750.5 L1852.4,750.6 L1856.2,750.6 L1859.9,750.6 L1863.6,750.7 L1867.4,750.6 L1871.1,750.6 L1874.8,750.6 L1878.6,750.5 L1882.3,750.5 L1886.1,750.4 L1889.8,750.3 L1893.5,750.2 L1897.3,750.1 L1901.0,749.9 L1904.7,749.8 L1908.5,749.6 L1912.2,749.4 L1915.9,749.2 L1919.7,749.0 L1923.4,748.8 L1927.1,748.6 L1930.9,748.3 L1934.6,748.0 L1938.4,747.7 L1942.1,747.4 L1945.8,747.1 L1949.6,746.8 L1953.3,746.4 L1957.0,746.0 L1960.8,745.7 L1964.5,745.2" stroke="#ff8000" stroke-linecap="butt"/>
<circle cx="1964.5" cy="745.2" r="5.8" fill="#ff8000" stroke="none"/>
<path d="M1146.4,757.8 L1150.1,758.5 L1153.9,759.2 L1157.6,759.9 L1161.3,760.6 L1165.1,761.3 L1168.8,762.0 L1172.5,762.7 L1176.3,763.3 L1180.0,764.0 L1183.8,764.6 L1187.5,765.2 L1191.2,765.9 L1195.0,766.5 L1198.7,767.1 L1202.4,767.7 L1206.2,768.2 L1209.9,768.8 L1213.6,769.4 L1217.4,769.9 L1221.1,770.5 L1224.8,771.0 L1228.6,771.5 L1232.3,772.1 L1236.1,772.6 L1239.8,773.1 L1243.5,773.6 L1247.3,774.1 L1251.0,774.5 L1254.7,775.0 L1258.5,775.5 L1262.2,775.9 L1265.9,776.4 L1269.7,776.8 L1273.4,777.3 L1277.1,777.7 L1280.9,778.1 L1284.6,778.5 L1288.4,778.9 L1292.1,779.3 L1295.8,779.7 L1299.6,780.1 L1303.3,780.4 L1307.0,780.8 L1310.8,781.2 L1314.5,781.5 L1318.2,781.9 L1322.0,782.2 L1325.7,782.5 L1329.4,782.9 L1333.2,783.2 L1336.9,783.5 L1340.7,783.8 L1344.4,784.1 L1348.1,784.4 L1351.9,784.7 L1355.6,785.0 L1359.3,785.2 L1363.1,785.5 L1366.8,785.8 L1370.5,786.0 L1374.3,786.3 L1378.0,786.6 L1381.7,786.8 L1385.5,787.0 L1389.2,787.3 L1393.0,787.5 L1396.7,787.7 L1400.4,788.0 L1404.2,788.2 L1407.9,788.4 L1411.6,788.6 L1415.4,788.8 L1419.1,789.0 L1422.8,789.3 L1426.6,789.5 L1430.3,789.7 L1434.0,789.9 L1437.8,790.1 L1441.5,790.2 L1445.2,790.4 L1449.0,790.6 L1452.7,790.8 L1456.5,791.0 L1460.2,791.2 L1463.9,791.4 L1467.7,791.6 L1471.4,791.8 L1475.1,791.9 L1478.9,792.1 L1482.6,792.3 L1486.3,792.5 L1490.1,792.7 L1493.8,792.9 L1497.5,793.0 L1501.3,793.2 L1505.0,793.4 L1508.8,793.6 L1512.5,793.8 L1516.2,794.0 L1520.0,794.2 L1523.7,794.4 L1527.4,794.6 L1531.2,794.8 L1534.9,795.0 L1538.6,795.2 L1542.4,795.4 L1546.1,795.6 L1549.8,795.8 L1553.6,796.0 L1557.3,796.2 L1561.1,796.5 L1564.8,796.7 L1568.5,796.9 L1572.3,797.1 L1576.0,797.4 L1579.7,797.6 L1583.5,797.9 L1587.2,798.1 L1590.9,798.4 L1594.7,798.6 L1598.4,798.9 L1602.1,799.1 L1605.9,799.4 L1609.6,799.6 L1613.4,799.9 L1617.1,800.2 L1620.8,800.4 L1624.6,800.7 L1628.3,800.9 L1632.0,801.2 L1635.8,801.5 L1639.5,801.8 L1643.2,802.0 L1647.0,802.3 L1650.7,802.6 L1654.4,802.8 L1658.2,803.1 L1661.9,803.4 L1665.7,803.6 L1669.4,803.9 L1673.1,804.2 L1676.9,804.5 L1680.6,804.7 L1684.3,805.0 L1688.1,805.3 L1691.8,805.5 L1695.5,805.8 L1699.3,806.1 L1703.0,806.3 L1706.7,806.6 L1710.5,806.8 L1714.2,807.1 L1717.9,807.3 L1721.7,807.6 L1725.4,807.8 L1729.2,808.1 L1732.9,808.3 L1736.6,808.6 L1740.4,808.8 L1744.1,809.0 L1747.8,809.3 L1751.6,809.5 L1755.3,809.7 L1759.0,809.9 L1762.8,810.2 L1766.5,810.4 L1770.2,810.6 L1774.0,810.8 L1777.7,811.0 L1781.5,811.2 L1785.2,811.4 L1788.9,811.6 L1792.7,811.7 L1796.4,811.9 L1800.1,812.1 L1803.9,812.2 L1807.6,812.4 L1811.3,812.6 L1815.1,812.7 L1818.8,812.9 L1822.5,813.0 L1826.3,813.1 L1830.0,813.3 L1833.8,813.4 L1837.5,813.5 L1841.2,813.6 L1845.0,813.7 L1848.7,813.9 L1852.4,814.0 L1856.2,814.0 L1859.9,814.1 L1863.6,814.2 L1867.4,814.3 L1871.1,814.4 L1874.8,814.4 L1878.6,814.5 L1882.3,814.6 L1886.1,814.6 L1889.8,814.7 L1893.5,814.7 L1897.3,814.8 L1901.0,814.8 L1904.7,814.8 L1908.5,814.8 L1912.2,814.8 L1915.9,814.9 L1919.7,814.9 L1923.4,814.9 L1927.1,814.8 L1930.9,814.8 L1934.6,814.8 L1938.4,814.8 L1942.1,814.8 L1945.8,814.7 L1949.6,814.7 L1953.3,814.6 L1957.0,814.6 L1960.8,814.5 L1964.5,814.4" stroke="#ff0000" stroke-linecap="butt"/>
<circle cx="1964.5" cy="814.4" r="5.8" fill="#ff0000" stroke="none"/>
</g>
<text class="tk" transform="translate(1105.9,919.9) scale(0.92,1)" letter-spacing="3.00" text-anchor="end">0</text>
<text class="tk" transform="translate(1105.9,731.9) scale(0.92,1)" letter-spacing="3.00" text-anchor="end">10</text>
<text class="tk" transform="translate(1105.9,543.9) scale(0.92,1)" letter-spacing="3.00" text-anchor="end">20</text>
<text class="tk" transform="translate(1105.9,355.9) scale(0.92,1)" letter-spacing="3.00" text-anchor="end">30</text>
<text class="tk" transform="translate(1105.9,1107.9) scale(0.92,1)" letter-spacing="3.00" text-anchor="end"><tspan dy="-1.5">−</tspan><tspan dx="-3.3" dy="1.5">10</tspan></text>
<text class="tk" transform="translate(1157.5,1191.5) scale(0.92,1)" letter-spacing="3.00" text-anchor="middle">4</text>
<text class="tk" transform="translate(1359.5,1191.5) scale(0.92,1)" letter-spacing="3.00" text-anchor="middle">5</text>
<text class="tk" transform="translate(1561.5,1191.5) scale(0.92,1)" letter-spacing="3.00" text-anchor="middle">6</text>
<text class="tk" transform="translate(1763.5,1191.5) scale(0.92,1)" letter-spacing="3.00" text-anchor="middle">7</text>
<text class="tk" transform="translate(1965.5,1191.5) scale(0.92,1)" letter-spacing="3.00" text-anchor="middle">8</text>
<text class="b" font-size="60" x="1210.9" y="1285.5" textLength="798.1" lengthAdjust="spacingAndGlyphs">True value of root diameter/cm</text>
<text class="b" font-size="60" transform="translate(973.3,908.9) rotate(-90)" textLength="438" lengthAdjust="spacingAndGlyphs">Relative error/%</text>
<path d="M1198.6,1501.6 V1697 H2103.4 V1501.6 H1198.6" fill="none" stroke="#000" stroke-width="5" stroke-dasharray="22 16.28" shape-rendering="crispEdges"/>
<rect x="1196.1" y="1499.1" width="5" height="5" fill="#000" shape-rendering="crispEdges"/>
<line x1="1647" y1="1497.5" x2="1647" y2="1418" stroke="#000" stroke-width="7.4" shape-rendering="crispEdges"/>
<polygon points="1647,1358.5 1662,1418.5 1632,1418.5" fill="#000"/>
</svg></body></html>
